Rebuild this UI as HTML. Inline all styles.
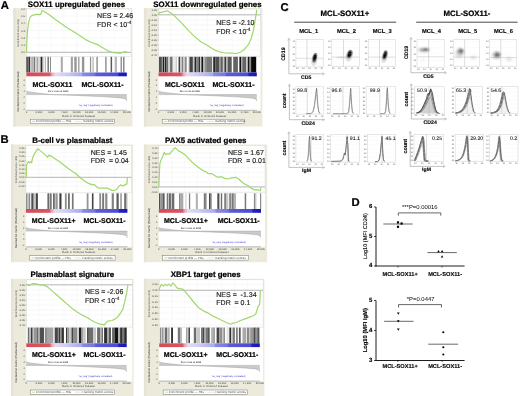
<!DOCTYPE html><html><head><meta charset="utf-8"><style>html,body{margin:0;padding:0;background:#fff;}svg{display:block;will-change:transform;font-family:"Liberation Sans",sans-serif;}</style></head><body><svg xmlns="http://www.w3.org/2000/svg" width="520" height="396" viewBox="0 0 520 396" font-family="Liberation Sans, sans-serif" text-rendering="geometricPrecision">
<rect x="0.00" y="0.00" width="520.00" height="396.00" fill="#ffffff" />
<rect x="13.30" y="8.00" width="119.20" height="118.50" fill="#ecebdb" />
<rect x="13.30" y="8.00" width="2.50" height="118.50" fill="#e6e4d6" />
<rect x="26.40" y="9.00" width="104.60" height="101.30" fill="#ffffff" />
<rect x="26.40" y="9.00" width="104.60" height="47.30" fill="none" stroke="#d8d8d8" stroke-width="0.5"/>
<line x1="26.40" y1="8.80" x2="131.00" y2="8.80" stroke="#f0f0f0" stroke-width="0.5" />
<text x="25.00" y="9.75" font-size="2.7" fill="#3a3a3a" text-anchor="end" >0.6</text>
<line x1="25.60" y1="8.80" x2="26.40" y2="8.80" stroke="#777" stroke-width="0.4" />
<line x1="26.40" y1="16.05" x2="131.00" y2="16.05" stroke="#f0f0f0" stroke-width="0.5" />
<text x="25.00" y="17.00" font-size="2.7" fill="#3a3a3a" text-anchor="end" >0.5</text>
<line x1="25.60" y1="16.05" x2="26.40" y2="16.05" stroke="#777" stroke-width="0.4" />
<line x1="26.40" y1="23.30" x2="131.00" y2="23.30" stroke="#f0f0f0" stroke-width="0.5" />
<text x="25.00" y="24.25" font-size="2.7" fill="#3a3a3a" text-anchor="end" >0.4</text>
<line x1="25.60" y1="23.30" x2="26.40" y2="23.30" stroke="#777" stroke-width="0.4" />
<line x1="26.40" y1="30.55" x2="131.00" y2="30.55" stroke="#f0f0f0" stroke-width="0.5" />
<text x="25.00" y="31.50" font-size="2.7" fill="#3a3a3a" text-anchor="end" >0.3</text>
<line x1="25.60" y1="30.55" x2="26.40" y2="30.55" stroke="#777" stroke-width="0.4" />
<line x1="26.40" y1="37.80" x2="131.00" y2="37.80" stroke="#f0f0f0" stroke-width="0.5" />
<text x="25.00" y="38.75" font-size="2.7" fill="#3a3a3a" text-anchor="end" >0.2</text>
<line x1="25.60" y1="37.80" x2="26.40" y2="37.80" stroke="#777" stroke-width="0.4" />
<line x1="26.40" y1="45.05" x2="131.00" y2="45.05" stroke="#f0f0f0" stroke-width="0.5" />
<text x="25.00" y="46.00" font-size="2.7" fill="#3a3a3a" text-anchor="end" >0.1</text>
<line x1="25.60" y1="45.05" x2="26.40" y2="45.05" stroke="#777" stroke-width="0.4" />
<line x1="26.40" y1="52.30" x2="131.00" y2="52.30" stroke="#f0f0f0" stroke-width="0.5" />
<text x="25.00" y="53.25" font-size="2.7" fill="#3a3a3a" text-anchor="end" >0.0</text>
<line x1="25.60" y1="52.30" x2="26.40" y2="52.30" stroke="#777" stroke-width="0.4" />
<line x1="38.95" y1="9.00" x2="38.95" y2="56.30" stroke="#f2f2f2" stroke-width="0.5" />
<line x1="51.50" y1="9.00" x2="51.50" y2="56.30" stroke="#f2f2f2" stroke-width="0.5" />
<line x1="64.05" y1="9.00" x2="64.05" y2="56.30" stroke="#f2f2f2" stroke-width="0.5" />
<line x1="76.60" y1="9.00" x2="76.60" y2="56.30" stroke="#f2f2f2" stroke-width="0.5" />
<line x1="89.15" y1="9.00" x2="89.15" y2="56.30" stroke="#f2f2f2" stroke-width="0.5" />
<line x1="101.70" y1="9.00" x2="101.70" y2="56.30" stroke="#f2f2f2" stroke-width="0.5" />
<line x1="114.25" y1="9.00" x2="114.25" y2="56.30" stroke="#f2f2f2" stroke-width="0.5" />
<line x1="26.40" y1="52.30" x2="131.00" y2="52.30" stroke="#8a8a8a" stroke-width="0.6" />
<text x="0" y="0" font-size="2.7" fill="#444" text-anchor="middle" transform="translate(19.20,32.90) rotate(-90)">Enrichment score (ES)</text>
<polyline points="26.50,52.30 26.80,43.20 27.40,32.30 28.60,22.60 30.10,17.10 32.30,15.30 35.90,14.30 40.20,14.70 41.40,12.90 42.00,10.70 43.20,11.00 49.30,14.70 55.30,19.50 61.40,23.80 67.50,28.00 75.00,32.60 80.30,35.90 85.60,39.60 90.90,42.20 96.20,44.10 98.30,44.90 101.40,47.00 105.70,49.60 109.90,51.70 113.10,52.60 117.30,52.80 120.50,53.30 124.70,51.70 127.40,52.30" fill="none" stroke="#9fd86c" stroke-width="1.2" stroke-linejoin="round"/>
<text x="97.10" y="18.10" font-size="7.0" fill="#1a1a1a" stroke="#1a1a1a" stroke-width="0.15" text-anchor="start" >NES = 2.46</text>
<text x="97.10" y="26.70" font-size="7.0" fill="#1a1a1a" stroke="#1a1a1a" stroke-width="0.15">FDR &lt; 10<tspan font-size="4.6" dy="-2.6">-4</tspan></text>
<rect x="26.40" y="56.80" width="1.40" height="15.70" fill="rgb(40,40,40)" />
<rect x="27.80" y="56.80" width="0.70" height="15.70" fill="rgb(120,120,120)" />
<rect x="28.50" y="56.80" width="1.70" height="15.70" fill="rgb(50,50,50)" />
<rect x="30.20" y="56.80" width="1.40" height="15.70" fill="rgb(200,200,200)" />
<rect x="31.60" y="56.80" width="1.10" height="15.70" fill="rgb(140,140,140)" />
<rect x="32.70" y="56.80" width="1.00" height="15.70" fill="rgb(200,200,200)" />
<rect x="33.70" y="56.80" width="1.40" height="15.70" fill="rgb(120,120,120)" />
<rect x="35.10" y="56.80" width="1.70" height="15.70" fill="rgb(210,210,210)" />
<rect x="36.80" y="56.80" width="1.10" height="15.70" fill="rgb(150,150,150)" />
<rect x="37.90" y="56.80" width="2.70" height="15.70" fill="rgb(215,215,215)" />
<rect x="40.60" y="56.80" width="1.40" height="15.70" fill="rgb(40,40,40)" />
<rect x="42.00" y="56.80" width="1.40" height="15.70" fill="rgb(160,160,160)" />
<rect x="44.80" y="56.80" width="1.00" height="15.70" fill="rgb(170,170,170)" />
<rect x="47.50" y="56.80" width="1.40" height="15.70" fill="rgb(110,110,110)" />
<rect x="50.00" y="56.80" width="1.00" height="15.70" fill="rgb(140,140,140)" />
<rect x="60.80" y="56.80" width="2.00" height="15.70" fill="rgb(170,170,170)" />
<rect x="70.80" y="56.80" width="2.10" height="15.70" fill="rgb(160,160,160)" />
<rect x="74.30" y="56.80" width="2.40" height="15.70" fill="rgb(150,150,150)" />
<rect x="78.10" y="56.80" width="1.40" height="15.70" fill="rgb(160,160,160)" />
<rect x="81.90" y="56.80" width="2.40" height="15.70" fill="rgb(150,150,150)" />
<rect x="89.90" y="56.80" width="1.30" height="15.70" fill="rgb(150,150,150)" />
<rect x="92.60" y="56.80" width="0.90" height="15.70" fill="rgb(150,150,150)" />
<rect x="96.40" y="56.80" width="1.40" height="15.70" fill="rgb(140,140,140)" />
<rect x="105.20" y="56.80" width="1.40" height="15.70" fill="rgb(140,140,140)" />
<rect x="110.60" y="56.80" width="1.50" height="15.70" fill="rgb(90,90,90)" />
<rect x="114.70" y="56.80" width="2.20" height="15.70" fill="rgb(180,180,180)" />
<rect x="120.50" y="56.80" width="1.50" height="15.70" fill="rgb(150,150,150)" />
<rect x="123.10" y="56.80" width="1.40" height="15.70" fill="rgb(130,130,130)" />
<rect x="26.40" y="72.50" width="100.40" height="3.80" fill="url(#cba1)"/>
<defs><linearGradient id="cba1" x1="0" x2="1" y1="0" y2="0"><stop offset="0.000" stop-color="#d64a56"/><stop offset="0.230" stop-color="#d85662"/><stop offset="0.255" stop-color="#e8a8b4"/><stop offset="0.290" stop-color="#e4dcf2"/><stop offset="0.400" stop-color="#ccccf4"/><stop offset="0.550" stop-color="#a8a8ec"/><stop offset="0.560" stop-color="#8a8ae4"/><stop offset="0.680" stop-color="#7676e0"/><stop offset="0.690" stop-color="#5c5cd8"/><stop offset="0.910" stop-color="#4c4cd2"/><stop offset="0.920" stop-color="#2222c4"/><stop offset="1.000" stop-color="#1414bc"/></linearGradient></defs>
<path d="M26.40,90.40 L27.00,91.40 L30.42,92.20 L38.45,93.20 L46.48,94.00 L52.50,94.60 L71.58,95.30 L86.64,95.90 L101.70,96.60 L114.75,97.40 L122.78,98.20 L126.00,99.20 L126.80,101.10 L126.80,94.60 L26.40,94.60 Z" fill="#cacaca"/>
<path d="M26.40,90.40 L27.00,91.40 L30.42,92.20 L38.45,93.20 L46.48,94.00 L52.50,94.60 L71.58,95.30 L86.64,95.90 L101.70,96.60 L114.75,97.40 L122.78,98.20 L126.00,99.20 L126.80,101.10" fill="none" stroke="#a0a0a0" stroke-width="0.5"/>
<line x1="26.40" y1="94.60" x2="126.80" y2="94.60" stroke="#9a9a9a" stroke-width="0.4" />
<text x="47.99" y="92.40" font-size="2.45" fill="#222" text-anchor="start" >Zero cross at 6985</text>
<text x="78.61" y="106.20" font-size="2.45" fill="#3a3ad0" text-anchor="start" >'na_neg' (negatively correlated)</text>
<text x="24.90" y="80.60" font-size="2.4" fill="#555" text-anchor="end" >8</text>
<text x="24.90" y="86.40" font-size="2.4" fill="#555" text-anchor="end" >6</text>
<text x="24.90" y="92.20" font-size="2.4" fill="#555" text-anchor="end" >4</text>
<text x="24.90" y="98.00" font-size="2.4" fill="#555" text-anchor="end" >2</text>
<text x="24.90" y="103.80" font-size="2.4" fill="#555" text-anchor="end" >0</text>
<text x="24.90" y="109.60" font-size="2.4" fill="#555" text-anchor="end" >-2</text>
<text x="0" y="0" font-size="2.9" fill="#333" text-anchor="middle" transform="translate(19.30,91.50) rotate(-90)">Ranked list metric (PreRanked)</text>
<line x1="26.40" y1="110.30" x2="126.80" y2="110.30" stroke="#777" stroke-width="0.5" />
<text x="26.40" y="113.10" font-size="2.7" fill="#333" text-anchor="middle" >0</text>
<text x="38.95" y="113.10" font-size="2.7" fill="#333" text-anchor="middle" >2,500</text>
<text x="51.50" y="113.10" font-size="2.7" fill="#333" text-anchor="middle" >5,000</text>
<text x="64.05" y="113.10" font-size="2.7" fill="#333" text-anchor="middle" >7,500</text>
<text x="76.60" y="113.10" font-size="2.7" fill="#333" text-anchor="middle" >10,000</text>
<text x="89.15" y="113.10" font-size="2.7" fill="#333" text-anchor="middle" >12,500</text>
<text x="101.70" y="113.10" font-size="2.7" fill="#333" text-anchor="middle" >15,000</text>
<text x="114.25" y="113.10" font-size="2.7" fill="#333" text-anchor="middle" >17,500</text>
<text x="126.80" y="113.10" font-size="2.7" fill="#333" text-anchor="middle" >20,000</text>
<text x="78.60" y="116.60" font-size="3.0" fill="#555" text-anchor="middle" >Rank in Ordered Dataset</text>
<rect x="30.30" y="119.20" width="84.20" height="4.4" fill="#fff" stroke="#666" stroke-width="0.45"/>
<line x1="32.00" y1="121.40" x2="35.10" y2="121.40" stroke="#9fd86c" stroke-width="0.7" />
<text x="36.00" y="122.40" font-size="3.1" fill="#555" text-anchor="start" >Enrichment profile</text>
<text x="61.90" y="122.40" font-size="3.1" fill="#555" text-anchor="start" >— Hits</text>
<line x1="74.90" y1="121.40" x2="81.80" y2="121.40" stroke="#ccc" stroke-width="0.6" />
<text x="82.70" y="122.40" font-size="3.1" fill="#555" text-anchor="start" >Ranking metric scores</text>
<text x="32.60" y="86.50" font-size="7.0" font-weight="bold" fill="#000" stroke="#000" stroke-width="0.22" text-anchor="start" >MCL-SOX11</text>
<text x="81.50" y="86.50" font-size="7.0" font-weight="bold" fill="#000" stroke="#000" stroke-width="0.22" text-anchor="start" >MCL-SOX11-</text>
<text x="27.70" y="6.80" font-size="7.9" font-weight="bold" fill="#000" stroke="#000" stroke-width="0.22" text-anchor="start" >SOX11 upregulated genes</text>
<rect x="143.90" y="8.00" width="118.50" height="118.50" fill="#ecebdb" />
<rect x="143.90" y="8.00" width="2.50" height="118.50" fill="#e6e4d6" />
<rect x="158.50" y="9.00" width="102.00" height="101.30" fill="#ffffff" />
<rect x="158.50" y="9.00" width="102.00" height="47.30" fill="none" stroke="#d8d8d8" stroke-width="0.5"/>
<line x1="158.50" y1="9.80" x2="260.50" y2="9.80" stroke="#f0f0f0" stroke-width="0.5" />
<text x="157.10" y="10.75" font-size="2.7" fill="#3a3a3a" text-anchor="end" >0.05</text>
<line x1="157.70" y1="9.80" x2="158.50" y2="9.80" stroke="#777" stroke-width="0.4" />
<line x1="158.50" y1="14.82" x2="260.50" y2="14.82" stroke="#f0f0f0" stroke-width="0.5" />
<text x="157.10" y="15.77" font-size="2.7" fill="#3a3a3a" text-anchor="end" >0.00</text>
<line x1="157.70" y1="14.82" x2="158.50" y2="14.82" stroke="#777" stroke-width="0.4" />
<line x1="158.50" y1="19.84" x2="260.50" y2="19.84" stroke="#f0f0f0" stroke-width="0.5" />
<text x="157.10" y="20.79" font-size="2.7" fill="#3a3a3a" text-anchor="end" >-0.05</text>
<line x1="157.70" y1="19.84" x2="158.50" y2="19.84" stroke="#777" stroke-width="0.4" />
<line x1="158.50" y1="24.86" x2="260.50" y2="24.86" stroke="#f0f0f0" stroke-width="0.5" />
<text x="157.10" y="25.81" font-size="2.7" fill="#3a3a3a" text-anchor="end" >-0.10</text>
<line x1="157.70" y1="24.86" x2="158.50" y2="24.86" stroke="#777" stroke-width="0.4" />
<line x1="158.50" y1="29.88" x2="260.50" y2="29.88" stroke="#f0f0f0" stroke-width="0.5" />
<text x="157.10" y="30.83" font-size="2.7" fill="#3a3a3a" text-anchor="end" >-0.15</text>
<line x1="157.70" y1="29.88" x2="158.50" y2="29.88" stroke="#777" stroke-width="0.4" />
<line x1="158.50" y1="34.90" x2="260.50" y2="34.90" stroke="#f0f0f0" stroke-width="0.5" />
<text x="157.10" y="35.85" font-size="2.7" fill="#3a3a3a" text-anchor="end" >-0.20</text>
<line x1="157.70" y1="34.90" x2="158.50" y2="34.90" stroke="#777" stroke-width="0.4" />
<line x1="158.50" y1="39.92" x2="260.50" y2="39.92" stroke="#f0f0f0" stroke-width="0.5" />
<text x="157.10" y="40.87" font-size="2.7" fill="#3a3a3a" text-anchor="end" >-0.25</text>
<line x1="157.70" y1="39.92" x2="158.50" y2="39.92" stroke="#777" stroke-width="0.4" />
<line x1="158.50" y1="44.94" x2="260.50" y2="44.94" stroke="#f0f0f0" stroke-width="0.5" />
<text x="157.10" y="45.89" font-size="2.7" fill="#3a3a3a" text-anchor="end" >-0.30</text>
<line x1="157.70" y1="44.94" x2="158.50" y2="44.94" stroke="#777" stroke-width="0.4" />
<line x1="158.50" y1="49.96" x2="260.50" y2="49.96" stroke="#f0f0f0" stroke-width="0.5" />
<text x="157.10" y="50.91" font-size="2.7" fill="#3a3a3a" text-anchor="end" >-0.35</text>
<line x1="157.70" y1="49.96" x2="158.50" y2="49.96" stroke="#777" stroke-width="0.4" />
<line x1="158.50" y1="54.98" x2="260.50" y2="54.98" stroke="#f0f0f0" stroke-width="0.5" />
<text x="157.10" y="55.93" font-size="2.7" fill="#3a3a3a" text-anchor="end" >-0.40</text>
<line x1="157.70" y1="54.98" x2="158.50" y2="54.98" stroke="#777" stroke-width="0.4" />
<line x1="170.79" y1="9.00" x2="170.79" y2="56.30" stroke="#f2f2f2" stroke-width="0.5" />
<line x1="183.07" y1="9.00" x2="183.07" y2="56.30" stroke="#f2f2f2" stroke-width="0.5" />
<line x1="195.36" y1="9.00" x2="195.36" y2="56.30" stroke="#f2f2f2" stroke-width="0.5" />
<line x1="207.65" y1="9.00" x2="207.65" y2="56.30" stroke="#f2f2f2" stroke-width="0.5" />
<line x1="219.94" y1="9.00" x2="219.94" y2="56.30" stroke="#f2f2f2" stroke-width="0.5" />
<line x1="232.23" y1="9.00" x2="232.23" y2="56.30" stroke="#f2f2f2" stroke-width="0.5" />
<line x1="244.51" y1="9.00" x2="244.51" y2="56.30" stroke="#f2f2f2" stroke-width="0.5" />
<line x1="158.50" y1="14.80" x2="260.50" y2="14.80" stroke="#8a8a8a" stroke-width="0.6" />
<text x="0" y="0" font-size="2.7" fill="#444" text-anchor="middle" transform="translate(149.80,32.90) rotate(-90)">Enrichment score (ES)</text>
<polyline points="158.50,14.80 159.50,12.30 162.00,12.10 164.60,11.70 167.10,10.80 169.60,12.30 173.40,14.80 177.20,18.60 182.20,23.70 188.50,30.60 194.90,36.90 201.20,42.00 205.00,44.00 210.20,47.20 215.50,50.40 220.70,52.20 226.00,53.00 231.20,53.20 236.50,53.50 240.40,52.20 244.40,49.30 248.30,44.70 250.90,39.50 253.60,29.60 254.90,21.70 256.20,13.90 256.80,9.90" fill="none" stroke="#9fd86c" stroke-width="1.2" stroke-linejoin="round"/>
<text x="216.20" y="25.00" font-size="7.0" fill="#1a1a1a" stroke="#1a1a1a" stroke-width="0.15" text-anchor="start" >NES = -2.10</text>
<text x="216.20" y="33.60" font-size="7.0" fill="#1a1a1a" stroke="#1a1a1a" stroke-width="0.15">FDR &lt; 10<tspan font-size="4.6" dy="-2.6">-4</tspan></text>
<rect x="158.90" y="56.80" width="3.00" height="15.70" fill="rgb(80,80,80)" />
<rect x="161.90" y="56.80" width="1.00" height="15.70" fill="rgb(150,150,150)" />
<rect x="162.90" y="56.80" width="1.30" height="15.70" fill="rgb(30,30,30)" />
<rect x="164.20" y="56.80" width="0.60" height="15.70" fill="rgb(170,170,170)" />
<rect x="164.80" y="56.80" width="1.30" height="15.70" fill="rgb(40,40,40)" />
<rect x="166.10" y="56.80" width="2.30" height="15.70" fill="rgb(110,110,110)" />
<rect x="168.40" y="56.80" width="1.70" height="15.70" fill="rgb(210,210,210)" />
<rect x="170.10" y="56.80" width="2.30" height="15.70" fill="rgb(110,110,110)" />
<rect x="172.40" y="56.80" width="0.90" height="15.70" fill="rgb(170,170,170)" />
<rect x="173.30" y="56.80" width="2.30" height="15.70" fill="rgb(235,235,235)" />
<rect x="175.60" y="56.80" width="1.30" height="15.70" fill="rgb(200,200,200)" />
<rect x="178.60" y="56.80" width="1.30" height="15.70" fill="rgb(30,30,30)" />
<rect x="179.90" y="56.80" width="1.90" height="15.70" fill="rgb(200,200,200)" />
<rect x="181.80" y="56.80" width="1.70" height="15.70" fill="rgb(130,130,130)" />
<rect x="183.50" y="56.80" width="1.30" height="15.70" fill="rgb(210,210,210)" />
<rect x="184.80" y="56.80" width="1.90" height="15.70" fill="rgb(140,140,140)" />
<rect x="188.70" y="56.80" width="0.90" height="15.70" fill="rgb(160,160,160)" />
<rect x="189.60" y="56.80" width="3.30" height="15.70" fill="rgb(70,70,70)" />
<rect x="192.90" y="56.80" width="1.60" height="15.70" fill="rgb(200,200,200)" />
<rect x="194.50" y="56.80" width="2.00" height="15.70" fill="rgb(40,40,40)" />
<rect x="196.50" y="56.80" width="2.00" height="15.70" fill="rgb(130,130,130)" />
<rect x="198.50" y="56.80" width="1.60" height="15.70" fill="rgb(50,50,50)" />
<rect x="200.10" y="56.80" width="1.30" height="15.70" fill="rgb(200,200,200)" />
<rect x="201.40" y="56.80" width="1.60" height="15.70" fill="rgb(20,20,20)" />
<rect x="203.00" y="56.80" width="1.70" height="15.70" fill="rgb(180,180,180)" />
<rect x="204.70" y="56.80" width="2.30" height="15.70" fill="rgb(140,140,140)" />
<rect x="207.00" y="56.80" width="5.20" height="15.70" fill="rgb(120,120,120)" />
<rect x="213.20" y="56.80" width="2.30" height="15.70" fill="rgb(40,40,40)" />
<rect x="215.50" y="56.80" width="3.60" height="15.70" fill="rgb(80,80,80)" />
<rect x="219.10" y="56.80" width="1.30" height="15.70" fill="rgb(150,150,150)" />
<rect x="220.40" y="56.80" width="2.50" height="15.70" fill="rgb(100,100,100)" />
<rect x="222.90" y="56.80" width="1.50" height="15.70" fill="rgb(200,200,200)" />
<rect x="224.40" y="56.80" width="1.80" height="15.70" fill="rgb(60,60,60)" />
<rect x="226.20" y="56.80" width="1.50" height="15.70" fill="rgb(170,170,170)" />
<rect x="227.70" y="56.80" width="4.00" height="15.70" fill="rgb(90,90,90)" />
<rect x="233.20" y="56.80" width="4.70" height="15.70" fill="rgb(100,100,100)" />
<rect x="239.40" y="56.80" width="1.80" height="15.70" fill="rgb(15,15,15)" />
<rect x="241.20" y="56.80" width="1.10" height="15.70" fill="rgb(160,160,160)" />
<rect x="242.30" y="56.80" width="4.00" height="15.70" fill="rgb(100,100,100)" />
<rect x="246.30" y="56.80" width="1.50" height="15.70" fill="rgb(200,200,200)" />
<rect x="247.80" y="56.80" width="1.80" height="15.70" fill="rgb(20,20,20)" />
<rect x="249.60" y="56.80" width="1.50" height="15.70" fill="rgb(140,140,140)" />
<rect x="251.10" y="56.80" width="5.10" height="15.70" fill="rgb(10,10,10)" />
<rect x="158.50" y="72.50" width="98.30" height="3.80" fill="url(#cba2)"/>
<defs><linearGradient id="cba2" x1="0" x2="1" y1="0" y2="0"><stop offset="0.000" stop-color="#d64a56"/><stop offset="0.230" stop-color="#d85662"/><stop offset="0.255" stop-color="#e8a8b4"/><stop offset="0.290" stop-color="#e4dcf2"/><stop offset="0.400" stop-color="#ccccf4"/><stop offset="0.550" stop-color="#a8a8ec"/><stop offset="0.560" stop-color="#8a8ae4"/><stop offset="0.680" stop-color="#7676e0"/><stop offset="0.690" stop-color="#5c5cd8"/><stop offset="0.910" stop-color="#4c4cd2"/><stop offset="0.920" stop-color="#2222c4"/><stop offset="1.000" stop-color="#1414bc"/></linearGradient></defs>
<path d="M158.50,90.40 L159.10,91.40 L162.43,92.20 L170.30,93.20 L178.16,94.00 L184.06,94.60 L202.74,95.30 L217.48,95.90 L232.23,96.60 L245.00,97.40 L252.87,98.20 L256.00,99.20 L256.80,101.10 L256.80,94.60 L158.50,94.60 Z" fill="#cacaca"/>
<path d="M158.50,90.40 L159.10,91.40 L162.43,92.20 L170.30,93.20 L178.16,94.00 L184.06,94.60 L202.74,95.30 L217.48,95.90 L232.23,96.60 L245.00,97.40 L252.87,98.20 L256.00,99.20 L256.80,101.10" fill="none" stroke="#a0a0a0" stroke-width="0.5"/>
<line x1="158.50" y1="94.60" x2="256.80" y2="94.60" stroke="#9a9a9a" stroke-width="0.4" />
<text x="179.63" y="92.40" font-size="2.45" fill="#222" text-anchor="start" >Zero cross at 6985</text>
<text x="209.62" y="106.20" font-size="2.45" fill="#3a3ad0" text-anchor="start" >'na_neg' (negatively correlated)</text>
<text x="157.00" y="80.60" font-size="2.4" fill="#555" text-anchor="end" >8</text>
<text x="157.00" y="86.40" font-size="2.4" fill="#555" text-anchor="end" >6</text>
<text x="157.00" y="92.20" font-size="2.4" fill="#555" text-anchor="end" >4</text>
<text x="157.00" y="98.00" font-size="2.4" fill="#555" text-anchor="end" >2</text>
<text x="157.00" y="103.80" font-size="2.4" fill="#555" text-anchor="end" >0</text>
<text x="157.00" y="109.60" font-size="2.4" fill="#555" text-anchor="end" >-2</text>
<text x="0" y="0" font-size="2.9" fill="#333" text-anchor="middle" transform="translate(149.90,91.50) rotate(-90)">Ranked list metric (PreRanked)</text>
<line x1="158.50" y1="110.30" x2="256.80" y2="110.30" stroke="#777" stroke-width="0.5" />
<text x="158.50" y="113.10" font-size="2.7" fill="#333" text-anchor="middle" >0</text>
<text x="170.79" y="113.10" font-size="2.7" fill="#333" text-anchor="middle" >2,500</text>
<text x="183.07" y="113.10" font-size="2.7" fill="#333" text-anchor="middle" >5,000</text>
<text x="195.36" y="113.10" font-size="2.7" fill="#333" text-anchor="middle" >7,500</text>
<text x="207.65" y="113.10" font-size="2.7" fill="#333" text-anchor="middle" >10,000</text>
<text x="219.94" y="113.10" font-size="2.7" fill="#333" text-anchor="middle" >12,500</text>
<text x="232.23" y="113.10" font-size="2.7" fill="#333" text-anchor="middle" >15,000</text>
<text x="244.51" y="113.10" font-size="2.7" fill="#333" text-anchor="middle" >17,500</text>
<text x="256.80" y="113.10" font-size="2.7" fill="#333" text-anchor="middle" >20,000</text>
<text x="209.65" y="116.60" font-size="3.0" fill="#555" text-anchor="middle" >Rank in Ordered Dataset</text>
<rect x="162.40" y="119.20" width="82.10" height="4.4" fill="#fff" stroke="#666" stroke-width="0.45"/>
<line x1="164.10" y1="121.40" x2="167.20" y2="121.40" stroke="#9fd86c" stroke-width="0.7" />
<text x="168.10" y="122.40" font-size="3.1" fill="#555" text-anchor="start" >Enrichment profile</text>
<text x="194.00" y="122.40" font-size="3.1" fill="#555" text-anchor="start" >— Hits</text>
<line x1="207.00" y1="121.40" x2="213.90" y2="121.40" stroke="#ccc" stroke-width="0.6" />
<text x="214.80" y="122.40" font-size="3.1" fill="#555" text-anchor="start" >Ranking metric scores</text>
<text x="165.00" y="86.50" font-size="7.0" font-weight="bold" fill="#000" stroke="#000" stroke-width="0.22" text-anchor="start" >MCL-SOX11</text>
<text x="212.50" y="86.50" font-size="7.0" font-weight="bold" fill="#000" stroke="#000" stroke-width="0.22" text-anchor="start" >MCL-SOX11-</text>
<text x="153.30" y="6.80" font-size="7.9" font-weight="bold" fill="#000" stroke="#000" stroke-width="0.22" text-anchor="start" >SOX11 downregulated genes</text>
<rect x="11.00" y="144.50" width="122.20" height="117.70" fill="#ecebdb" />
<rect x="11.00" y="144.50" width="2.50" height="117.70" fill="#e6e4d6" />
<rect x="25.90" y="145.50" width="105.60" height="101.30" fill="#ffffff" />
<rect x="25.90" y="145.50" width="105.60" height="47.30" fill="none" stroke="#d8d8d8" stroke-width="0.5"/>
<line x1="25.90" y1="148.10" x2="131.50" y2="148.10" stroke="#f0f0f0" stroke-width="0.5" />
<text x="24.50" y="149.05" font-size="2.7" fill="#3a3a3a" text-anchor="end" >0.35</text>
<line x1="25.10" y1="148.10" x2="25.90" y2="148.10" stroke="#777" stroke-width="0.4" />
<line x1="25.90" y1="152.30" x2="131.50" y2="152.30" stroke="#f0f0f0" stroke-width="0.5" />
<text x="24.50" y="153.25" font-size="2.7" fill="#3a3a3a" text-anchor="end" >0.30</text>
<line x1="25.10" y1="152.30" x2="25.90" y2="152.30" stroke="#777" stroke-width="0.4" />
<line x1="25.90" y1="156.50" x2="131.50" y2="156.50" stroke="#f0f0f0" stroke-width="0.5" />
<text x="24.50" y="157.45" font-size="2.7" fill="#3a3a3a" text-anchor="end" >0.25</text>
<line x1="25.10" y1="156.50" x2="25.90" y2="156.50" stroke="#777" stroke-width="0.4" />
<line x1="25.90" y1="160.70" x2="131.50" y2="160.70" stroke="#f0f0f0" stroke-width="0.5" />
<text x="24.50" y="161.65" font-size="2.7" fill="#3a3a3a" text-anchor="end" >0.20</text>
<line x1="25.10" y1="160.70" x2="25.90" y2="160.70" stroke="#777" stroke-width="0.4" />
<line x1="25.90" y1="164.90" x2="131.50" y2="164.90" stroke="#f0f0f0" stroke-width="0.5" />
<text x="24.50" y="165.85" font-size="2.7" fill="#3a3a3a" text-anchor="end" >0.15</text>
<line x1="25.10" y1="164.90" x2="25.90" y2="164.90" stroke="#777" stroke-width="0.4" />
<line x1="25.90" y1="169.10" x2="131.50" y2="169.10" stroke="#f0f0f0" stroke-width="0.5" />
<text x="24.50" y="170.05" font-size="2.7" fill="#3a3a3a" text-anchor="end" >0.10</text>
<line x1="25.10" y1="169.10" x2="25.90" y2="169.10" stroke="#777" stroke-width="0.4" />
<line x1="25.90" y1="173.30" x2="131.50" y2="173.30" stroke="#f0f0f0" stroke-width="0.5" />
<text x="24.50" y="174.25" font-size="2.7" fill="#3a3a3a" text-anchor="end" >0.05</text>
<line x1="25.10" y1="173.30" x2="25.90" y2="173.30" stroke="#777" stroke-width="0.4" />
<line x1="25.90" y1="177.50" x2="131.50" y2="177.50" stroke="#f0f0f0" stroke-width="0.5" />
<text x="24.50" y="178.45" font-size="2.7" fill="#3a3a3a" text-anchor="end" >0.00</text>
<line x1="25.10" y1="177.50" x2="25.90" y2="177.50" stroke="#777" stroke-width="0.4" />
<line x1="25.90" y1="181.70" x2="131.50" y2="181.70" stroke="#f0f0f0" stroke-width="0.5" />
<text x="24.50" y="182.65" font-size="2.7" fill="#3a3a3a" text-anchor="end" >-0.05</text>
<line x1="25.10" y1="181.70" x2="25.90" y2="181.70" stroke="#777" stroke-width="0.4" />
<line x1="25.90" y1="185.90" x2="131.50" y2="185.90" stroke="#f0f0f0" stroke-width="0.5" />
<text x="24.50" y="186.85" font-size="2.7" fill="#3a3a3a" text-anchor="end" >-0.10</text>
<line x1="25.10" y1="185.90" x2="25.90" y2="185.90" stroke="#777" stroke-width="0.4" />
<line x1="38.59" y1="145.50" x2="38.59" y2="192.80" stroke="#f2f2f2" stroke-width="0.5" />
<line x1="51.27" y1="145.50" x2="51.27" y2="192.80" stroke="#f2f2f2" stroke-width="0.5" />
<line x1="63.96" y1="145.50" x2="63.96" y2="192.80" stroke="#f2f2f2" stroke-width="0.5" />
<line x1="76.65" y1="145.50" x2="76.65" y2="192.80" stroke="#f2f2f2" stroke-width="0.5" />
<line x1="89.34" y1="145.50" x2="89.34" y2="192.80" stroke="#f2f2f2" stroke-width="0.5" />
<line x1="102.03" y1="145.50" x2="102.03" y2="192.80" stroke="#f2f2f2" stroke-width="0.5" />
<line x1="114.71" y1="145.50" x2="114.71" y2="192.80" stroke="#f2f2f2" stroke-width="0.5" />
<line x1="25.90" y1="177.30" x2="131.50" y2="177.30" stroke="#8a8a8a" stroke-width="0.6" />
<text x="0" y="0" font-size="2.7" fill="#444" text-anchor="middle" transform="translate(16.90,169.40) rotate(-90)">Enrichment score (ES)</text>
<polyline points="26.30,177.20 26.50,165.50 27.50,162.90 28.50,161.70 29.40,162.90 30.70,161.70 31.60,162.90 32.60,157.90 34.50,153.50 35.70,152.20 36.60,150.30 37.60,148.80 39.50,150.10 42.70,152.60 45.80,155.40 47.70,157.20 49.00,155.10 52.80,157.20 57.80,160.40 62.90,164.20 69.20,169.20 76.00,173.80 80.20,177.70 84.30,180.80 88.50,183.40 92.60,184.90 94.20,184.40 96.80,187.00 98.80,188.20 103.00,188.20 107.20,188.00 110.30,189.60 112.30,190.60 115.50,190.10 117.00,189.10 118.60,186.50 120.70,184.90 122.70,186.00 124.80,184.90 126.90,183.90 127.40,177.10" fill="none" stroke="#9fd86c" stroke-width="1.2" stroke-linejoin="round"/>
<text x="90.80" y="154.70" font-size="7.0" fill="#1a1a1a" stroke="#1a1a1a" stroke-width="0.15" text-anchor="start" >NES = 1.45</text>
<text x="90.80" y="163.30" font-size="7.0" fill="#1a1a1a" stroke="#1a1a1a" stroke-width="0.15">FDR &#160;= 0.04</text>
<rect x="26.10" y="193.30" width="1.40" height="15.70" fill="rgb(130,130,130)" />
<rect x="27.50" y="193.30" width="1.30" height="15.70" fill="rgb(190,190,190)" />
<rect x="28.80" y="193.30" width="1.40" height="15.70" fill="rgb(140,140,140)" />
<rect x="31.30" y="193.30" width="1.70" height="15.70" fill="rgb(80,80,80)" />
<rect x="33.00" y="193.30" width="1.00" height="15.70" fill="rgb(150,150,150)" />
<rect x="34.00" y="193.30" width="1.80" height="15.70" fill="rgb(200,200,200)" />
<rect x="35.80" y="193.30" width="2.10" height="15.70" fill="rgb(70,70,70)" />
<rect x="47.50" y="193.30" width="1.40" height="15.70" fill="rgb(80,80,80)" />
<rect x="48.90" y="193.30" width="1.10" height="15.70" fill="rgb(190,190,190)" />
<rect x="50.00" y="193.30" width="1.70" height="15.70" fill="rgb(120,120,120)" />
<rect x="53.10" y="193.30" width="1.70" height="15.70" fill="rgb(90,90,90)" />
<rect x="54.80" y="193.30" width="1.40" height="15.70" fill="rgb(190,190,190)" />
<rect x="56.20" y="193.30" width="1.40" height="15.70" fill="rgb(130,130,130)" />
<rect x="59.40" y="193.30" width="2.10" height="15.70" fill="rgb(60,60,60)" />
<rect x="64.90" y="193.30" width="1.80" height="15.70" fill="rgb(140,140,140)" />
<rect x="68.00" y="193.30" width="1.80" height="15.70" fill="rgb(110,110,110)" />
<rect x="71.90" y="193.30" width="1.70" height="15.70" fill="rgb(120,120,120)" />
<rect x="86.70" y="193.30" width="1.80" height="15.70" fill="rgb(150,150,150)" />
<rect x="91.90" y="193.30" width="1.60" height="15.70" fill="rgb(70,70,70)" />
<rect x="99.30" y="193.30" width="1.80" height="15.70" fill="rgb(140,140,140)" />
<rect x="102.20" y="193.30" width="1.90" height="15.70" fill="rgb(120,120,120)" />
<rect x="105.20" y="193.30" width="2.20" height="15.70" fill="rgb(140,140,140)" />
<rect x="111.70" y="193.30" width="2.20" height="15.70" fill="rgb(130,130,130)" />
<rect x="116.50" y="193.30" width="2.20" height="15.70" fill="rgb(90,90,90)" />
<rect x="120.10" y="193.30" width="1.90" height="15.70" fill="rgb(170,170,170)" />
<rect x="124.20" y="193.30" width="2.20" height="15.70" fill="rgb(110,110,110)" />
<rect x="126.40" y="193.30" width="1.00" height="15.70" fill="rgb(180,180,180)" />
<rect x="25.90" y="209.00" width="101.50" height="3.80" fill="url(#cbb1)"/>
<defs><linearGradient id="cbb1" x1="0" x2="1" y1="0" y2="0"><stop offset="0.000" stop-color="#d64a56"/><stop offset="0.230" stop-color="#d85662"/><stop offset="0.255" stop-color="#e8a8b4"/><stop offset="0.290" stop-color="#e4dcf2"/><stop offset="0.400" stop-color="#ccccf4"/><stop offset="0.550" stop-color="#a8a8ec"/><stop offset="0.560" stop-color="#8a8ae4"/><stop offset="0.680" stop-color="#7676e0"/><stop offset="0.690" stop-color="#5c5cd8"/><stop offset="0.910" stop-color="#4c4cd2"/><stop offset="0.920" stop-color="#2222c4"/><stop offset="1.000" stop-color="#1414bc"/></linearGradient></defs>
<path d="M25.90,226.90 L26.50,227.90 L29.96,228.70 L38.08,229.70 L46.20,230.50 L52.29,231.10 L71.58,231.80 L86.80,232.40 L102.03,233.10 L115.22,233.90 L123.34,234.70 L126.60,235.70 L127.40,237.60 L127.40,231.10 L25.90,231.10 Z" fill="#cacaca"/>
<path d="M25.90,226.90 L26.50,227.90 L29.96,228.70 L38.08,229.70 L46.20,230.50 L52.29,231.10 L71.58,231.80 L86.80,232.40 L102.03,233.10 L115.22,233.90 L123.34,234.70 L126.60,235.70 L127.40,237.60" fill="none" stroke="#a0a0a0" stroke-width="0.5"/>
<line x1="25.90" y1="231.10" x2="127.40" y2="231.10" stroke="#9a9a9a" stroke-width="0.4" />
<text x="47.72" y="228.90" font-size="2.45" fill="#222" text-anchor="start" >Zero cross at 6985</text>
<text x="78.68" y="242.70" font-size="2.45" fill="#3a3ad0" text-anchor="start" >'na_neg' (negatively correlated)</text>
<text x="24.40" y="217.10" font-size="2.4" fill="#555" text-anchor="end" >8</text>
<text x="24.40" y="222.90" font-size="2.4" fill="#555" text-anchor="end" >6</text>
<text x="24.40" y="228.70" font-size="2.4" fill="#555" text-anchor="end" >4</text>
<text x="24.40" y="234.50" font-size="2.4" fill="#555" text-anchor="end" >2</text>
<text x="24.40" y="240.30" font-size="2.4" fill="#555" text-anchor="end" >0</text>
<text x="24.40" y="246.10" font-size="2.4" fill="#555" text-anchor="end" >-2</text>
<text x="0" y="0" font-size="2.9" fill="#333" text-anchor="middle" transform="translate(17.00,228.00) rotate(-90)">Ranked list metric (PreRanked)</text>
<line x1="25.90" y1="246.80" x2="127.40" y2="246.80" stroke="#777" stroke-width="0.5" />
<text x="25.90" y="249.60" font-size="2.7" fill="#333" text-anchor="middle" >0</text>
<text x="38.59" y="249.60" font-size="2.7" fill="#333" text-anchor="middle" >2,500</text>
<text x="51.27" y="249.60" font-size="2.7" fill="#333" text-anchor="middle" >5,000</text>
<text x="63.96" y="249.60" font-size="2.7" fill="#333" text-anchor="middle" >7,500</text>
<text x="76.65" y="249.60" font-size="2.7" fill="#333" text-anchor="middle" >10,000</text>
<text x="89.34" y="249.60" font-size="2.7" fill="#333" text-anchor="middle" >12,500</text>
<text x="102.03" y="249.60" font-size="2.7" fill="#333" text-anchor="middle" >15,000</text>
<text x="114.71" y="249.60" font-size="2.7" fill="#333" text-anchor="middle" >17,500</text>
<text x="127.40" y="249.60" font-size="2.7" fill="#333" text-anchor="middle" >20,000</text>
<text x="78.65" y="253.10" font-size="3.0" fill="#555" text-anchor="middle" >Rank in Ordered Dataset</text>
<rect x="29.80" y="255.70" width="85.30" height="4.4" fill="#fff" stroke="#666" stroke-width="0.45"/>
<line x1="31.50" y1="257.90" x2="34.60" y2="257.90" stroke="#9fd86c" stroke-width="0.7" />
<text x="35.50" y="258.90" font-size="3.1" fill="#555" text-anchor="start" >Enrichment profile</text>
<text x="61.40" y="258.90" font-size="3.1" fill="#555" text-anchor="start" >— Hits</text>
<line x1="74.40" y1="257.90" x2="81.30" y2="257.90" stroke="#ccc" stroke-width="0.6" />
<text x="82.20" y="258.90" font-size="3.1" fill="#555" text-anchor="start" >Ranking metric scores</text>
<text x="31.80" y="223.00" font-size="7.0" font-weight="bold" fill="#000" stroke="#000" stroke-width="0.22" text-anchor="start" >MCL-SOX11+</text>
<text x="83.50" y="223.00" font-size="7.0" font-weight="bold" fill="#000" stroke="#000" stroke-width="0.22" text-anchor="start" >MCL-SOX11-</text>
<text x="32.20" y="143.20" font-size="7.9" font-weight="bold" fill="#000" stroke="#000" stroke-width="0.22" text-anchor="start" >B-cell vs plasmablast</text>
<rect x="143.90" y="144.50" width="123.30" height="117.70" fill="#ecebdb" />
<rect x="143.90" y="144.50" width="2.50" height="117.70" fill="#e6e4d6" />
<rect x="158.80" y="145.50" width="106.20" height="101.30" fill="#ffffff" />
<rect x="158.80" y="145.50" width="106.20" height="47.30" fill="none" stroke="#d8d8d8" stroke-width="0.5"/>
<line x1="158.80" y1="148.10" x2="265.00" y2="148.10" stroke="#f0f0f0" stroke-width="0.5" />
<text x="157.40" y="149.05" font-size="2.7" fill="#3a3a3a" text-anchor="end" >0.40</text>
<line x1="158.00" y1="148.10" x2="158.80" y2="148.10" stroke="#777" stroke-width="0.4" />
<line x1="158.80" y1="152.95" x2="265.00" y2="152.95" stroke="#f0f0f0" stroke-width="0.5" />
<text x="157.40" y="153.90" font-size="2.7" fill="#3a3a3a" text-anchor="end" >0.35</text>
<line x1="158.00" y1="152.95" x2="158.80" y2="152.95" stroke="#777" stroke-width="0.4" />
<line x1="158.80" y1="157.80" x2="265.00" y2="157.80" stroke="#f0f0f0" stroke-width="0.5" />
<text x="157.40" y="158.75" font-size="2.7" fill="#3a3a3a" text-anchor="end" >0.30</text>
<line x1="158.00" y1="157.80" x2="158.80" y2="157.80" stroke="#777" stroke-width="0.4" />
<line x1="158.80" y1="162.65" x2="265.00" y2="162.65" stroke="#f0f0f0" stroke-width="0.5" />
<text x="157.40" y="163.60" font-size="2.7" fill="#3a3a3a" text-anchor="end" >0.25</text>
<line x1="158.00" y1="162.65" x2="158.80" y2="162.65" stroke="#777" stroke-width="0.4" />
<line x1="158.80" y1="167.50" x2="265.00" y2="167.50" stroke="#f0f0f0" stroke-width="0.5" />
<text x="157.40" y="168.45" font-size="2.7" fill="#3a3a3a" text-anchor="end" >0.20</text>
<line x1="158.00" y1="167.50" x2="158.80" y2="167.50" stroke="#777" stroke-width="0.4" />
<line x1="158.80" y1="172.35" x2="265.00" y2="172.35" stroke="#f0f0f0" stroke-width="0.5" />
<text x="157.40" y="173.30" font-size="2.7" fill="#3a3a3a" text-anchor="end" >0.15</text>
<line x1="158.00" y1="172.35" x2="158.80" y2="172.35" stroke="#777" stroke-width="0.4" />
<line x1="158.80" y1="177.20" x2="265.00" y2="177.20" stroke="#f0f0f0" stroke-width="0.5" />
<text x="157.40" y="178.15" font-size="2.7" fill="#3a3a3a" text-anchor="end" >0.10</text>
<line x1="158.00" y1="177.20" x2="158.80" y2="177.20" stroke="#777" stroke-width="0.4" />
<line x1="158.80" y1="182.05" x2="265.00" y2="182.05" stroke="#f0f0f0" stroke-width="0.5" />
<text x="157.40" y="183.00" font-size="2.7" fill="#3a3a3a" text-anchor="end" >0.05</text>
<line x1="158.00" y1="182.05" x2="158.80" y2="182.05" stroke="#777" stroke-width="0.4" />
<line x1="158.80" y1="186.90" x2="265.00" y2="186.90" stroke="#f0f0f0" stroke-width="0.5" />
<text x="157.40" y="187.85" font-size="2.7" fill="#3a3a3a" text-anchor="end" >0.00</text>
<line x1="158.00" y1="186.90" x2="158.80" y2="186.90" stroke="#777" stroke-width="0.4" />
<line x1="158.80" y1="191.75" x2="265.00" y2="191.75" stroke="#f0f0f0" stroke-width="0.5" />
<text x="157.40" y="192.70" font-size="2.7" fill="#3a3a3a" text-anchor="end" >-0.05</text>
<line x1="158.00" y1="191.75" x2="158.80" y2="191.75" stroke="#777" stroke-width="0.4" />
<line x1="171.58" y1="145.50" x2="171.58" y2="192.80" stroke="#f2f2f2" stroke-width="0.5" />
<line x1="184.35" y1="145.50" x2="184.35" y2="192.80" stroke="#f2f2f2" stroke-width="0.5" />
<line x1="197.12" y1="145.50" x2="197.12" y2="192.80" stroke="#f2f2f2" stroke-width="0.5" />
<line x1="209.90" y1="145.50" x2="209.90" y2="192.80" stroke="#f2f2f2" stroke-width="0.5" />
<line x1="222.68" y1="145.50" x2="222.68" y2="192.80" stroke="#f2f2f2" stroke-width="0.5" />
<line x1="235.45" y1="145.50" x2="235.45" y2="192.80" stroke="#f2f2f2" stroke-width="0.5" />
<line x1="248.22" y1="145.50" x2="248.22" y2="192.80" stroke="#f2f2f2" stroke-width="0.5" />
<line x1="158.80" y1="186.90" x2="265.00" y2="186.90" stroke="#8a8a8a" stroke-width="0.6" />
<text x="0" y="0" font-size="2.7" fill="#444" text-anchor="middle" transform="translate(149.80,169.40) rotate(-90)">Enrichment score (ES)</text>
<polyline points="158.80,186.90 159.80,164.20 160.80,160.40 162.70,156.60 164.30,152.20 165.80,154.70 167.70,153.50 169.60,154.10 171.50,151.60 173.40,149.70 174.70,147.80 175.90,148.40 178.50,150.90 182.20,152.80 184.80,154.70 189.80,159.80 194.90,164.80 199.90,168.60 203.70,171.10 206.20,171.80 208.00,173.60 211.30,173.60 214.70,175.60 218.00,177.30 221.40,176.70 224.70,178.40 228.10,179.00 231.40,177.80 235.90,177.30 238.70,179.00 241.50,181.70 244.80,184.00 248.20,185.70 251.50,188.40 254.80,189.90 257.60,189.60 260.40,190.70 261.00,187.30" fill="none" stroke="#9fd86c" stroke-width="1.2" stroke-linejoin="round"/>
<text x="227.90" y="154.70" font-size="7.0" fill="#1a1a1a" stroke="#1a1a1a" stroke-width="0.15" text-anchor="start" >NES = 1.67</text>
<text x="227.90" y="163.30" font-size="7.0" fill="#1a1a1a" stroke="#1a1a1a" stroke-width="0.15">FDR &#160;= 0.01</text>
<rect x="159.10" y="193.30" width="1.00" height="15.70" fill="rgb(60,60,60)" />
<rect x="160.10" y="193.30" width="2.40" height="15.70" fill="rgb(150,150,150)" />
<rect x="162.50" y="193.30" width="2.10" height="15.70" fill="rgb(90,90,90)" />
<rect x="166.70" y="193.30" width="1.40" height="15.70" fill="rgb(120,120,120)" />
<rect x="168.10" y="193.30" width="1.00" height="15.70" fill="rgb(190,190,190)" />
<rect x="169.10" y="193.30" width="1.80" height="15.70" fill="rgb(90,90,90)" />
<rect x="170.90" y="193.30" width="1.00" height="15.70" fill="rgb(200,200,200)" />
<rect x="171.90" y="193.30" width="2.40" height="15.70" fill="rgb(110,110,110)" />
<rect x="179.20" y="193.30" width="1.30" height="15.70" fill="rgb(110,110,110)" />
<rect x="180.50" y="193.30" width="2.80" height="15.70" fill="rgb(170,170,170)" />
<rect x="185.40" y="193.30" width="1.00" height="15.70" fill="rgb(200,200,200)" />
<rect x="188.90" y="193.30" width="1.30" height="15.70" fill="rgb(130,130,130)" />
<rect x="195.80" y="193.30" width="2.10" height="15.70" fill="rgb(180,180,180)" />
<rect x="203.80" y="193.30" width="2.10" height="15.70" fill="rgb(120,120,120)" />
<rect x="205.90" y="193.30" width="1.00" height="15.70" fill="rgb(180,180,180)" />
<rect x="209.00" y="193.30" width="1.70" height="15.70" fill="rgb(70,70,70)" />
<rect x="210.70" y="193.30" width="1.10" height="15.70" fill="rgb(150,150,150)" />
<rect x="217.30" y="193.30" width="2.10" height="15.70" fill="rgb(80,80,80)" />
<rect x="220.80" y="193.30" width="1.40" height="15.70" fill="rgb(110,110,110)" />
<rect x="224.20" y="193.30" width="2.30" height="15.70" fill="rgb(130,130,130)" />
<rect x="226.50" y="193.30" width="1.80" height="15.70" fill="rgb(200,200,200)" />
<rect x="229.40" y="193.30" width="1.40" height="15.70" fill="rgb(90,90,90)" />
<rect x="230.80" y="193.30" width="1.10" height="15.70" fill="rgb(190,190,190)" />
<rect x="231.90" y="193.30" width="1.90" height="15.70" fill="rgb(120,120,120)" />
<rect x="233.80" y="193.30" width="2.20" height="15.70" fill="rgb(180,180,180)" />
<rect x="244.70" y="193.30" width="1.50" height="15.70" fill="rgb(120,120,120)" />
<rect x="253.90" y="193.30" width="1.10" height="15.70" fill="rgb(140,140,140)" />
<rect x="255.00" y="193.30" width="1.40" height="15.70" fill="rgb(200,200,200)" />
<rect x="260.10" y="193.30" width="1.10" height="15.70" fill="rgb(130,130,130)" />
<rect x="158.80" y="209.00" width="102.20" height="3.80" fill="url(#cbb2)"/>
<defs><linearGradient id="cbb2" x1="0" x2="1" y1="0" y2="0"><stop offset="0.000" stop-color="#d64a56"/><stop offset="0.230" stop-color="#d85662"/><stop offset="0.255" stop-color="#e8a8b4"/><stop offset="0.290" stop-color="#e4dcf2"/><stop offset="0.400" stop-color="#ccccf4"/><stop offset="0.550" stop-color="#a8a8ec"/><stop offset="0.560" stop-color="#8a8ae4"/><stop offset="0.680" stop-color="#7676e0"/><stop offset="0.690" stop-color="#5c5cd8"/><stop offset="0.910" stop-color="#4c4cd2"/><stop offset="0.920" stop-color="#2222c4"/><stop offset="1.000" stop-color="#1414bc"/></linearGradient></defs>
<path d="M158.80,226.90 L159.40,227.90 L162.89,228.70 L171.06,229.70 L179.24,230.50 L185.37,231.10 L204.79,231.80 L220.12,232.40 L235.45,233.10 L248.74,233.90 L256.91,234.70 L260.20,235.70 L261.00,237.60 L261.00,231.10 L158.80,231.10 Z" fill="#cacaca"/>
<path d="M158.80,226.90 L159.40,227.90 L162.89,228.70 L171.06,229.70 L179.24,230.50 L185.37,231.10 L204.79,231.80 L220.12,232.40 L235.45,233.10 L248.74,233.90 L256.91,234.70 L260.20,235.70 L261.00,237.60" fill="none" stroke="#a0a0a0" stroke-width="0.5"/>
<line x1="158.80" y1="231.10" x2="261.00" y2="231.10" stroke="#9a9a9a" stroke-width="0.4" />
<text x="180.77" y="228.90" font-size="2.45" fill="#222" text-anchor="start" >Zero cross at 6985</text>
<text x="211.94" y="242.70" font-size="2.45" fill="#3a3ad0" text-anchor="start" >'na_neg' (negatively correlated)</text>
<text x="157.30" y="217.10" font-size="2.4" fill="#555" text-anchor="end" >8</text>
<text x="157.30" y="222.90" font-size="2.4" fill="#555" text-anchor="end" >6</text>
<text x="157.30" y="228.70" font-size="2.4" fill="#555" text-anchor="end" >4</text>
<text x="157.30" y="234.50" font-size="2.4" fill="#555" text-anchor="end" >2</text>
<text x="157.30" y="240.30" font-size="2.4" fill="#555" text-anchor="end" >0</text>
<text x="157.30" y="246.10" font-size="2.4" fill="#555" text-anchor="end" >-2</text>
<text x="0" y="0" font-size="2.9" fill="#333" text-anchor="middle" transform="translate(149.90,228.00) rotate(-90)">Ranked list metric (PreRanked)</text>
<line x1="158.80" y1="246.80" x2="261.00" y2="246.80" stroke="#777" stroke-width="0.5" />
<text x="158.80" y="249.60" font-size="2.7" fill="#333" text-anchor="middle" >0</text>
<text x="171.58" y="249.60" font-size="2.7" fill="#333" text-anchor="middle" >2,500</text>
<text x="184.35" y="249.60" font-size="2.7" fill="#333" text-anchor="middle" >5,000</text>
<text x="197.12" y="249.60" font-size="2.7" fill="#333" text-anchor="middle" >7,500</text>
<text x="209.90" y="249.60" font-size="2.7" fill="#333" text-anchor="middle" >10,000</text>
<text x="222.68" y="249.60" font-size="2.7" fill="#333" text-anchor="middle" >12,500</text>
<text x="235.45" y="249.60" font-size="2.7" fill="#333" text-anchor="middle" >15,000</text>
<text x="248.22" y="249.60" font-size="2.7" fill="#333" text-anchor="middle" >17,500</text>
<text x="261.00" y="249.60" font-size="2.7" fill="#333" text-anchor="middle" >20,000</text>
<text x="211.90" y="253.10" font-size="3.0" fill="#555" text-anchor="middle" >Rank in Ordered Dataset</text>
<rect x="162.70" y="255.70" width="86.00" height="4.4" fill="#fff" stroke="#666" stroke-width="0.45"/>
<line x1="164.40" y1="257.90" x2="167.50" y2="257.90" stroke="#9fd86c" stroke-width="0.7" />
<text x="168.40" y="258.90" font-size="3.1" fill="#555" text-anchor="start" >Enrichment profile</text>
<text x="194.30" y="258.90" font-size="3.1" fill="#555" text-anchor="start" >— Hits</text>
<line x1="207.30" y1="257.90" x2="214.20" y2="257.90" stroke="#ccc" stroke-width="0.6" />
<text x="215.10" y="258.90" font-size="3.1" fill="#555" text-anchor="start" >Ranking metric scores</text>
<text x="164.00" y="223.00" font-size="7.0" font-weight="bold" fill="#000" stroke="#000" stroke-width="0.22" text-anchor="start" >MCL-SOX11+</text>
<text x="217.70" y="223.00" font-size="7.0" font-weight="bold" fill="#000" stroke="#000" stroke-width="0.22" text-anchor="start" >MCL-SOX11-</text>
<text x="165.00" y="143.20" font-size="7.9" font-weight="bold" fill="#000" stroke="#000" stroke-width="0.22" text-anchor="start" >PAX5 activated genes</text>
<rect x="11.00" y="278.80" width="122.60" height="117.20" fill="#ecebdb" />
<rect x="11.00" y="278.80" width="2.50" height="117.20" fill="#e6e4d6" />
<rect x="26.30" y="279.80" width="105.90" height="101.30" fill="#ffffff" />
<rect x="26.30" y="279.80" width="105.90" height="47.30" fill="none" stroke="#d8d8d8" stroke-width="0.5"/>
<line x1="26.30" y1="284.80" x2="132.20" y2="284.80" stroke="#f0f0f0" stroke-width="0.5" />
<text x="24.90" y="285.75" font-size="2.7" fill="#3a3a3a" text-anchor="end" >0.00</text>
<line x1="25.50" y1="284.80" x2="26.30" y2="284.80" stroke="#777" stroke-width="0.4" />
<line x1="26.30" y1="289.83" x2="132.20" y2="289.83" stroke="#f0f0f0" stroke-width="0.5" />
<text x="24.90" y="290.78" font-size="2.7" fill="#3a3a3a" text-anchor="end" >-0.05</text>
<line x1="25.50" y1="289.83" x2="26.30" y2="289.83" stroke="#777" stroke-width="0.4" />
<line x1="26.30" y1="294.86" x2="132.20" y2="294.86" stroke="#f0f0f0" stroke-width="0.5" />
<text x="24.90" y="295.81" font-size="2.7" fill="#3a3a3a" text-anchor="end" >-0.10</text>
<line x1="25.50" y1="294.86" x2="26.30" y2="294.86" stroke="#777" stroke-width="0.4" />
<line x1="26.30" y1="299.89" x2="132.20" y2="299.89" stroke="#f0f0f0" stroke-width="0.5" />
<text x="24.90" y="300.84" font-size="2.7" fill="#3a3a3a" text-anchor="end" >-0.15</text>
<line x1="25.50" y1="299.89" x2="26.30" y2="299.89" stroke="#777" stroke-width="0.4" />
<line x1="26.30" y1="304.92" x2="132.20" y2="304.92" stroke="#f0f0f0" stroke-width="0.5" />
<text x="24.90" y="305.87" font-size="2.7" fill="#3a3a3a" text-anchor="end" >-0.20</text>
<line x1="25.50" y1="304.92" x2="26.30" y2="304.92" stroke="#777" stroke-width="0.4" />
<line x1="26.30" y1="309.95" x2="132.20" y2="309.95" stroke="#f0f0f0" stroke-width="0.5" />
<text x="24.90" y="310.90" font-size="2.7" fill="#3a3a3a" text-anchor="end" >-0.25</text>
<line x1="25.50" y1="309.95" x2="26.30" y2="309.95" stroke="#777" stroke-width="0.4" />
<line x1="26.30" y1="314.98" x2="132.20" y2="314.98" stroke="#f0f0f0" stroke-width="0.5" />
<text x="24.90" y="315.93" font-size="2.7" fill="#3a3a3a" text-anchor="end" >-0.30</text>
<line x1="25.50" y1="314.98" x2="26.30" y2="314.98" stroke="#777" stroke-width="0.4" />
<line x1="26.30" y1="320.01" x2="132.20" y2="320.01" stroke="#f0f0f0" stroke-width="0.5" />
<text x="24.90" y="320.96" font-size="2.7" fill="#3a3a3a" text-anchor="end" >-0.35</text>
<line x1="25.50" y1="320.01" x2="26.30" y2="320.01" stroke="#777" stroke-width="0.4" />
<line x1="26.30" y1="325.04" x2="132.20" y2="325.04" stroke="#f0f0f0" stroke-width="0.5" />
<text x="24.90" y="325.99" font-size="2.7" fill="#3a3a3a" text-anchor="end" >-0.40</text>
<line x1="25.50" y1="325.04" x2="26.30" y2="325.04" stroke="#777" stroke-width="0.4" />
<line x1="38.85" y1="279.80" x2="38.85" y2="327.10" stroke="#f2f2f2" stroke-width="0.5" />
<line x1="51.40" y1="279.80" x2="51.40" y2="327.10" stroke="#f2f2f2" stroke-width="0.5" />
<line x1="63.95" y1="279.80" x2="63.95" y2="327.10" stroke="#f2f2f2" stroke-width="0.5" />
<line x1="76.50" y1="279.80" x2="76.50" y2="327.10" stroke="#f2f2f2" stroke-width="0.5" />
<line x1="89.05" y1="279.80" x2="89.05" y2="327.10" stroke="#f2f2f2" stroke-width="0.5" />
<line x1="101.60" y1="279.80" x2="101.60" y2="327.10" stroke="#f2f2f2" stroke-width="0.5" />
<line x1="114.15" y1="279.80" x2="114.15" y2="327.10" stroke="#f2f2f2" stroke-width="0.5" />
<line x1="26.30" y1="284.80" x2="132.20" y2="284.80" stroke="#8a8a8a" stroke-width="0.6" />
<text x="0" y="0" font-size="2.7" fill="#444" text-anchor="middle" transform="translate(16.90,303.70) rotate(-90)">Enrichment score (ES)</text>
<polyline points="26.30,284.60 29.40,285.30 33.00,283.60 36.50,283.80 40.00,284.80 43.80,285.10 47.60,286.90 52.60,291.40 57.70,295.80 62.70,300.20 67.80,304.60 72.80,309.10 77.90,312.60 82.90,315.40 88.00,318.00 90.00,319.50 95.10,322.30 100.10,324.20 104.50,324.90 105.80,323.00 107.70,321.10 112.10,320.50 115.30,318.90 117.20,317.30 120.30,313.50 122.90,309.10 124.80,301.50 126.70,292.60 127.90,285.10" fill="none" stroke="#9fd86c" stroke-width="1.2" stroke-linejoin="round"/>
<text x="85.00" y="294.30" font-size="7.0" fill="#1a1a1a" stroke="#1a1a1a" stroke-width="0.15" text-anchor="start" >NES = -2.06</text>
<text x="85.00" y="302.90" font-size="7.0" fill="#1a1a1a" stroke="#1a1a1a" stroke-width="0.15">FDR &lt; 10<tspan font-size="4.6" dy="-2.6">-4</tspan></text>
<rect x="27.80" y="327.60" width="1.70" height="15.70" fill="rgb(110,110,110)" />
<rect x="29.50" y="327.60" width="1.40" height="15.70" fill="rgb(190,190,190)" />
<rect x="30.90" y="327.60" width="1.80" height="15.70" fill="rgb(60,60,60)" />
<rect x="32.70" y="327.60" width="1.00" height="15.70" fill="rgb(200,200,200)" />
<rect x="33.70" y="327.60" width="3.10" height="15.70" fill="rgb(150,150,150)" />
<rect x="36.80" y="327.60" width="1.10" height="15.70" fill="rgb(80,80,80)" />
<rect x="37.90" y="327.60" width="2.00" height="15.70" fill="rgb(170,170,170)" />
<rect x="39.90" y="327.60" width="4.20" height="15.70" fill="rgb(80,80,80)" />
<rect x="45.10" y="327.60" width="1.80" height="15.70" fill="rgb(130,130,130)" />
<rect x="46.90" y="327.60" width="6.20" height="15.70" fill="rgb(165,165,165)" />
<rect x="53.10" y="327.60" width="1.70" height="15.70" fill="rgb(220,220,220)" />
<rect x="54.80" y="327.60" width="3.10" height="15.70" fill="rgb(70,70,70)" />
<rect x="57.90" y="327.60" width="0.80" height="15.70" fill="rgb(130,130,130)" />
<rect x="58.70" y="327.60" width="1.70" height="15.70" fill="rgb(60,60,60)" />
<rect x="60.40" y="327.60" width="1.10" height="15.70" fill="rgb(130,130,130)" />
<rect x="61.50" y="327.60" width="2.40" height="15.70" fill="rgb(50,50,50)" />
<rect x="66.00" y="327.60" width="1.30" height="15.70" fill="rgb(60,60,60)" />
<rect x="67.30" y="327.60" width="1.80" height="15.70" fill="rgb(150,150,150)" />
<rect x="69.10" y="327.60" width="2.40" height="15.70" fill="rgb(200,200,200)" />
<rect x="71.50" y="327.60" width="2.10" height="15.70" fill="rgb(70,70,70)" />
<rect x="73.60" y="327.60" width="3.80" height="15.70" fill="rgb(140,140,140)" />
<rect x="78.80" y="327.60" width="2.70" height="15.70" fill="rgb(30,30,30)" />
<rect x="81.50" y="327.60" width="1.40" height="15.70" fill="rgb(150,150,150)" />
<rect x="82.90" y="327.60" width="2.80" height="15.70" fill="rgb(200,200,200)" />
<rect x="87.10" y="327.60" width="1.70" height="15.70" fill="rgb(60,60,60)" />
<rect x="88.80" y="327.60" width="4.30" height="15.70" fill="rgb(110,110,110)" />
<rect x="93.10" y="327.60" width="2.90" height="15.70" fill="rgb(200,200,200)" />
<rect x="97.10" y="327.60" width="2.90" height="15.70" fill="rgb(110,110,110)" />
<rect x="100.00" y="327.60" width="1.50" height="15.70" fill="rgb(180,180,180)" />
<rect x="101.50" y="327.60" width="1.50" height="15.70" fill="rgb(110,110,110)" />
<rect x="104.10" y="327.60" width="2.90" height="15.70" fill="rgb(50,50,50)" />
<rect x="107.00" y="327.60" width="1.80" height="15.70" fill="rgb(170,170,170)" />
<rect x="108.80" y="327.60" width="2.20" height="15.70" fill="rgb(90,90,90)" />
<rect x="112.10" y="327.60" width="2.60" height="15.70" fill="rgb(100,100,100)" />
<rect x="114.70" y="327.60" width="3.30" height="15.70" fill="rgb(20,20,20)" />
<rect x="118.00" y="327.60" width="2.10" height="15.70" fill="rgb(180,180,180)" />
<rect x="120.10" y="327.60" width="2.60" height="15.70" fill="rgb(50,50,50)" />
<rect x="122.70" y="327.60" width="1.50" height="15.70" fill="rgb(120,120,120)" />
<rect x="124.20" y="327.60" width="2.50" height="15.70" fill="rgb(40,40,40)" />
<rect x="26.30" y="343.30" width="100.40" height="3.80" fill="url(#cbb3)"/>
<defs><linearGradient id="cbb3" x1="0" x2="1" y1="0" y2="0"><stop offset="0.000" stop-color="#d64a56"/><stop offset="0.230" stop-color="#d85662"/><stop offset="0.255" stop-color="#e8a8b4"/><stop offset="0.290" stop-color="#e4dcf2"/><stop offset="0.400" stop-color="#ccccf4"/><stop offset="0.550" stop-color="#a8a8ec"/><stop offset="0.560" stop-color="#8a8ae4"/><stop offset="0.680" stop-color="#7676e0"/><stop offset="0.690" stop-color="#5c5cd8"/><stop offset="0.910" stop-color="#4c4cd2"/><stop offset="0.920" stop-color="#2222c4"/><stop offset="1.000" stop-color="#1414bc"/></linearGradient></defs>
<path d="M26.30,361.20 L26.90,362.20 L30.32,363.00 L38.35,364.00 L46.38,364.80 L52.40,365.40 L71.48,366.10 L86.54,366.70 L101.60,367.40 L114.65,368.20 L122.68,369.00 L125.90,370.00 L126.70,371.90 L126.70,365.40 L26.30,365.40 Z" fill="#cacaca"/>
<path d="M26.30,361.20 L26.90,362.20 L30.32,363.00 L38.35,364.00 L46.38,364.80 L52.40,365.40 L71.48,366.10 L86.54,366.70 L101.60,367.40 L114.65,368.20 L122.68,369.00 L125.90,370.00 L126.70,371.90" fill="none" stroke="#a0a0a0" stroke-width="0.5"/>
<line x1="26.30" y1="365.40" x2="126.70" y2="365.40" stroke="#9a9a9a" stroke-width="0.4" />
<text x="47.89" y="363.20" font-size="2.45" fill="#222" text-anchor="start" >Zero cross at 6985</text>
<text x="78.51" y="377.00" font-size="2.45" fill="#3a3ad0" text-anchor="start" >'na_neg' (negatively correlated)</text>
<text x="24.80" y="351.40" font-size="2.4" fill="#555" text-anchor="end" >8</text>
<text x="24.80" y="357.20" font-size="2.4" fill="#555" text-anchor="end" >6</text>
<text x="24.80" y="363.00" font-size="2.4" fill="#555" text-anchor="end" >4</text>
<text x="24.80" y="368.80" font-size="2.4" fill="#555" text-anchor="end" >2</text>
<text x="24.80" y="374.60" font-size="2.4" fill="#555" text-anchor="end" >0</text>
<text x="24.80" y="380.40" font-size="2.4" fill="#555" text-anchor="end" >-2</text>
<text x="0" y="0" font-size="2.9" fill="#333" text-anchor="middle" transform="translate(17.00,362.30) rotate(-90)">Ranked list metric (PreRanked)</text>
<line x1="26.30" y1="381.10" x2="126.70" y2="381.10" stroke="#777" stroke-width="0.5" />
<text x="26.30" y="383.90" font-size="2.7" fill="#333" text-anchor="middle" >0</text>
<text x="38.85" y="383.90" font-size="2.7" fill="#333" text-anchor="middle" >2,500</text>
<text x="51.40" y="383.90" font-size="2.7" fill="#333" text-anchor="middle" >5,000</text>
<text x="63.95" y="383.90" font-size="2.7" fill="#333" text-anchor="middle" >7,500</text>
<text x="76.50" y="383.90" font-size="2.7" fill="#333" text-anchor="middle" >10,000</text>
<text x="89.05" y="383.90" font-size="2.7" fill="#333" text-anchor="middle" >12,500</text>
<text x="101.60" y="383.90" font-size="2.7" fill="#333" text-anchor="middle" >15,000</text>
<text x="114.15" y="383.90" font-size="2.7" fill="#333" text-anchor="middle" >17,500</text>
<text x="126.70" y="383.90" font-size="2.7" fill="#333" text-anchor="middle" >20,000</text>
<text x="78.50" y="387.40" font-size="3.0" fill="#555" text-anchor="middle" >Rank in Ordered Dataset</text>
<rect x="30.20" y="390.00" width="84.20" height="4.4" fill="#fff" stroke="#666" stroke-width="0.45"/>
<line x1="31.90" y1="392.20" x2="35.00" y2="392.20" stroke="#9fd86c" stroke-width="0.7" />
<text x="35.90" y="393.20" font-size="3.1" fill="#555" text-anchor="start" >Enrichment profile</text>
<text x="61.80" y="393.20" font-size="3.1" fill="#555" text-anchor="start" >— Hits</text>
<line x1="74.80" y1="392.20" x2="81.70" y2="392.20" stroke="#ccc" stroke-width="0.6" />
<text x="82.60" y="393.20" font-size="3.1" fill="#555" text-anchor="start" >Ranking metric scores</text>
<text x="32.00" y="357.30" font-size="7.0" font-weight="bold" fill="#000" stroke="#000" stroke-width="0.22" text-anchor="start" >MCL-SOX11+</text>
<text x="83.50" y="357.30" font-size="7.0" font-weight="bold" fill="#000" stroke="#000" stroke-width="0.22" text-anchor="start" >MCL-SOX11-</text>
<text x="30.40" y="277.20" font-size="7.9" font-weight="bold" fill="#000" stroke="#000" stroke-width="0.22" text-anchor="start" >Plasmablast signature</text>
<rect x="143.90" y="278.80" width="120.50" height="117.20" fill="#ecebdb" />
<rect x="143.90" y="278.80" width="2.50" height="117.20" fill="#e6e4d6" />
<rect x="159.20" y="279.80" width="103.90" height="101.30" fill="#ffffff" />
<rect x="159.20" y="279.80" width="103.90" height="47.30" fill="none" stroke="#d8d8d8" stroke-width="0.5"/>
<line x1="159.20" y1="284.40" x2="263.10" y2="284.40" stroke="#f0f0f0" stroke-width="0.5" />
<text x="157.80" y="285.35" font-size="2.7" fill="#3a3a3a" text-anchor="end" >0.05</text>
<line x1="158.40" y1="284.40" x2="159.20" y2="284.40" stroke="#777" stroke-width="0.4" />
<line x1="159.20" y1="290.15" x2="263.10" y2="290.15" stroke="#f0f0f0" stroke-width="0.5" />
<text x="157.80" y="291.10" font-size="2.7" fill="#3a3a3a" text-anchor="end" >0.00</text>
<line x1="158.40" y1="290.15" x2="159.20" y2="290.15" stroke="#777" stroke-width="0.4" />
<line x1="159.20" y1="295.90" x2="263.10" y2="295.90" stroke="#f0f0f0" stroke-width="0.5" />
<text x="157.80" y="296.85" font-size="2.7" fill="#3a3a3a" text-anchor="end" >-0.05</text>
<line x1="158.40" y1="295.90" x2="159.20" y2="295.90" stroke="#777" stroke-width="0.4" />
<line x1="159.20" y1="301.65" x2="263.10" y2="301.65" stroke="#f0f0f0" stroke-width="0.5" />
<text x="157.80" y="302.60" font-size="2.7" fill="#3a3a3a" text-anchor="end" >-0.10</text>
<line x1="158.40" y1="301.65" x2="159.20" y2="301.65" stroke="#777" stroke-width="0.4" />
<line x1="159.20" y1="307.40" x2="263.10" y2="307.40" stroke="#f0f0f0" stroke-width="0.5" />
<text x="157.80" y="308.35" font-size="2.7" fill="#3a3a3a" text-anchor="end" >-0.15</text>
<line x1="158.40" y1="307.40" x2="159.20" y2="307.40" stroke="#777" stroke-width="0.4" />
<line x1="159.20" y1="313.15" x2="263.10" y2="313.15" stroke="#f0f0f0" stroke-width="0.5" />
<text x="157.80" y="314.10" font-size="2.7" fill="#3a3a3a" text-anchor="end" >-0.20</text>
<line x1="158.40" y1="313.15" x2="159.20" y2="313.15" stroke="#777" stroke-width="0.4" />
<line x1="159.20" y1="318.90" x2="263.10" y2="318.90" stroke="#f0f0f0" stroke-width="0.5" />
<text x="157.80" y="319.85" font-size="2.7" fill="#3a3a3a" text-anchor="end" >-0.25</text>
<line x1="158.40" y1="318.90" x2="159.20" y2="318.90" stroke="#777" stroke-width="0.4" />
<line x1="159.20" y1="324.65" x2="263.10" y2="324.65" stroke="#f0f0f0" stroke-width="0.5" />
<text x="157.80" y="325.60" font-size="2.7" fill="#3a3a3a" text-anchor="end" >-0.30</text>
<line x1="158.40" y1="324.65" x2="159.20" y2="324.65" stroke="#777" stroke-width="0.4" />
<line x1="171.77" y1="279.80" x2="171.77" y2="327.10" stroke="#f2f2f2" stroke-width="0.5" />
<line x1="184.35" y1="279.80" x2="184.35" y2="327.10" stroke="#f2f2f2" stroke-width="0.5" />
<line x1="196.93" y1="279.80" x2="196.93" y2="327.10" stroke="#f2f2f2" stroke-width="0.5" />
<line x1="209.50" y1="279.80" x2="209.50" y2="327.10" stroke="#f2f2f2" stroke-width="0.5" />
<line x1="222.07" y1="279.80" x2="222.07" y2="327.10" stroke="#f2f2f2" stroke-width="0.5" />
<line x1="234.65" y1="279.80" x2="234.65" y2="327.10" stroke="#f2f2f2" stroke-width="0.5" />
<line x1="247.23" y1="279.80" x2="247.23" y2="327.10" stroke="#f2f2f2" stroke-width="0.5" />
<line x1="159.20" y1="290.30" x2="263.10" y2="290.30" stroke="#8a8a8a" stroke-width="0.6" />
<text x="0" y="0" font-size="2.7" fill="#444" text-anchor="middle" transform="translate(149.80,303.70) rotate(-90)">Enrichment score (ES)</text>
<polyline points="159.20,290.20 159.80,287.50 161.40,284.30 163.30,286.20 165.20,284.30 167.10,285.60 169.00,284.10 170.90,286.20 172.80,283.00 174.70,284.90 177.20,288.10 179.70,288.70 182.90,289.10 184.80,291.20 188.50,295.70 193.60,302.00 198.60,307.70 203.70,311.10 208.00,312.90 212.50,315.90 217.10,318.00 221.60,320.30 226.20,322.50 230.70,324.20 233.00,323.10 236.40,322.50 239.80,320.80 244.40,319.10 248.90,317.40 253.50,315.70 255.80,314.00 258.00,306.60 259.70,304.30 260.30,290.70" fill="none" stroke="#9fd86c" stroke-width="1.2" stroke-linejoin="round"/>
<text x="216.30" y="296.80" font-size="7.0" fill="#1a1a1a" stroke="#1a1a1a" stroke-width="0.15" text-anchor="start" >NES = &#160;-1.34</text>
<text x="216.30" y="305.40" font-size="7.0" fill="#1a1a1a" stroke="#1a1a1a" stroke-width="0.15">FDR &#160;= 0.1</text>
<rect x="159.80" y="327.60" width="1.40" height="15.70" fill="rgb(140,140,140)" />
<rect x="161.20" y="327.60" width="1.00" height="15.70" fill="rgb(200,200,200)" />
<rect x="162.20" y="327.60" width="1.40" height="15.70" fill="rgb(130,130,130)" />
<rect x="163.60" y="327.60" width="1.40" height="15.70" fill="rgb(210,210,210)" />
<rect x="165.00" y="327.60" width="2.00" height="15.70" fill="rgb(110,110,110)" />
<rect x="167.00" y="327.60" width="1.40" height="15.70" fill="rgb(200,200,200)" />
<rect x="168.40" y="327.60" width="1.10" height="15.70" fill="rgb(150,150,150)" />
<rect x="171.20" y="327.60" width="1.70" height="15.70" fill="rgb(30,30,30)" />
<rect x="177.80" y="327.60" width="2.70" height="15.70" fill="rgb(120,120,120)" />
<rect x="180.50" y="327.60" width="1.40" height="15.70" fill="rgb(180,180,180)" />
<rect x="186.10" y="327.60" width="1.40" height="15.70" fill="rgb(150,150,150)" />
<rect x="187.50" y="327.60" width="1.00" height="15.70" fill="rgb(200,200,200)" />
<rect x="188.50" y="327.60" width="1.40" height="15.70" fill="rgb(50,50,50)" />
<rect x="193.80" y="327.60" width="2.40" height="15.70" fill="rgb(110,110,110)" />
<rect x="196.20" y="327.60" width="3.80" height="15.70" fill="rgb(200,200,200)" />
<rect x="201.00" y="327.60" width="1.40" height="15.70" fill="rgb(120,120,120)" />
<rect x="202.40" y="327.60" width="2.10" height="15.70" fill="rgb(70,70,70)" />
<rect x="204.50" y="327.60" width="1.40" height="15.70" fill="rgb(170,170,170)" />
<rect x="205.90" y="327.60" width="2.10" height="15.70" fill="rgb(120,120,120)" />
<rect x="208.00" y="327.60" width="1.70" height="15.70" fill="rgb(90,90,90)" />
<rect x="211.10" y="327.60" width="2.10" height="15.70" fill="rgb(180,180,180)" />
<rect x="213.20" y="327.60" width="1.70" height="15.70" fill="rgb(150,150,150)" />
<rect x="216.60" y="327.60" width="2.80" height="15.70" fill="rgb(70,70,70)" />
<rect x="219.40" y="327.60" width="1.00" height="15.70" fill="rgb(150,150,150)" />
<rect x="220.40" y="327.60" width="1.40" height="15.70" fill="rgb(100,100,100)" />
<rect x="221.80" y="327.60" width="1.70" height="15.70" fill="rgb(200,200,200)" />
<rect x="223.50" y="327.60" width="1.40" height="15.70" fill="rgb(130,130,130)" />
<rect x="226.50" y="327.60" width="2.90" height="15.70" fill="rgb(230,230,230)" />
<rect x="229.40" y="327.60" width="1.80" height="15.70" fill="rgb(50,50,50)" />
<rect x="231.20" y="327.60" width="1.50" height="15.70" fill="rgb(200,200,200)" />
<rect x="232.70" y="327.60" width="2.20" height="15.70" fill="rgb(120,120,120)" />
<rect x="236.00" y="327.60" width="1.80" height="15.70" fill="rgb(130,130,130)" />
<rect x="238.90" y="327.60" width="1.80" height="15.70" fill="rgb(90,90,90)" />
<rect x="242.50" y="327.60" width="3.70" height="15.70" fill="rgb(170,170,170)" />
<rect x="246.90" y="327.60" width="2.20" height="15.70" fill="rgb(140,140,140)" />
<rect x="249.10" y="327.60" width="1.10" height="15.70" fill="rgb(190,190,190)" />
<rect x="250.20" y="327.60" width="3.30" height="15.70" fill="rgb(150,150,150)" />
<rect x="253.50" y="327.60" width="2.20" height="15.70" fill="rgb(70,70,70)" />
<rect x="255.70" y="327.60" width="1.50" height="15.70" fill="rgb(150,150,150)" />
<rect x="257.20" y="327.60" width="2.20" height="15.70" fill="rgb(90,90,90)" />
<rect x="159.20" y="343.30" width="100.60" height="3.80" fill="url(#cbb4)"/>
<defs><linearGradient id="cbb4" x1="0" x2="1" y1="0" y2="0"><stop offset="0.000" stop-color="#d64a56"/><stop offset="0.230" stop-color="#d85662"/><stop offset="0.255" stop-color="#e8a8b4"/><stop offset="0.290" stop-color="#e4dcf2"/><stop offset="0.400" stop-color="#ccccf4"/><stop offset="0.550" stop-color="#a8a8ec"/><stop offset="0.560" stop-color="#8a8ae4"/><stop offset="0.680" stop-color="#7676e0"/><stop offset="0.690" stop-color="#5c5cd8"/><stop offset="0.910" stop-color="#4c4cd2"/><stop offset="0.920" stop-color="#2222c4"/><stop offset="1.000" stop-color="#1414bc"/></linearGradient></defs>
<path d="M159.20,361.20 L159.80,362.20 L163.22,363.00 L171.27,364.00 L179.32,364.80 L185.36,365.40 L204.47,366.10 L219.56,366.70 L234.65,367.40 L247.73,368.20 L255.78,369.00 L259.00,370.00 L259.80,371.90 L259.80,365.40 L159.20,365.40 Z" fill="#cacaca"/>
<path d="M159.20,361.20 L159.80,362.20 L163.22,363.00 L171.27,364.00 L179.32,364.80 L185.36,365.40 L204.47,366.10 L219.56,366.70 L234.65,367.40 L247.73,368.20 L255.78,369.00 L259.00,370.00 L259.80,371.90" fill="none" stroke="#a0a0a0" stroke-width="0.5"/>
<line x1="159.20" y1="365.40" x2="259.80" y2="365.40" stroke="#9a9a9a" stroke-width="0.4" />
<text x="180.83" y="363.20" font-size="2.45" fill="#222" text-anchor="start" >Zero cross at 6985</text>
<text x="211.51" y="377.00" font-size="2.45" fill="#3a3ad0" text-anchor="start" >'na_neg' (negatively correlated)</text>
<text x="157.70" y="351.40" font-size="2.4" fill="#555" text-anchor="end" >8</text>
<text x="157.70" y="357.20" font-size="2.4" fill="#555" text-anchor="end" >6</text>
<text x="157.70" y="363.00" font-size="2.4" fill="#555" text-anchor="end" >4</text>
<text x="157.70" y="368.80" font-size="2.4" fill="#555" text-anchor="end" >2</text>
<text x="157.70" y="374.60" font-size="2.4" fill="#555" text-anchor="end" >0</text>
<text x="157.70" y="380.40" font-size="2.4" fill="#555" text-anchor="end" >-2</text>
<text x="0" y="0" font-size="2.9" fill="#333" text-anchor="middle" transform="translate(149.90,362.30) rotate(-90)">Ranked list metric (PreRanked)</text>
<line x1="159.20" y1="381.10" x2="259.80" y2="381.10" stroke="#777" stroke-width="0.5" />
<text x="159.20" y="383.90" font-size="2.7" fill="#333" text-anchor="middle" >0</text>
<text x="171.77" y="383.90" font-size="2.7" fill="#333" text-anchor="middle" >2,500</text>
<text x="184.35" y="383.90" font-size="2.7" fill="#333" text-anchor="middle" >5,000</text>
<text x="196.93" y="383.90" font-size="2.7" fill="#333" text-anchor="middle" >7,500</text>
<text x="209.50" y="383.90" font-size="2.7" fill="#333" text-anchor="middle" >10,000</text>
<text x="222.07" y="383.90" font-size="2.7" fill="#333" text-anchor="middle" >12,500</text>
<text x="234.65" y="383.90" font-size="2.7" fill="#333" text-anchor="middle" >15,000</text>
<text x="247.23" y="383.90" font-size="2.7" fill="#333" text-anchor="middle" >17,500</text>
<text x="259.80" y="383.90" font-size="2.7" fill="#333" text-anchor="middle" >20,000</text>
<text x="211.50" y="387.40" font-size="3.0" fill="#555" text-anchor="middle" >Rank in Ordered Dataset</text>
<rect x="163.10" y="390.00" width="84.40" height="4.4" fill="#fff" stroke="#666" stroke-width="0.45"/>
<line x1="164.80" y1="392.20" x2="167.90" y2="392.20" stroke="#9fd86c" stroke-width="0.7" />
<text x="168.80" y="393.20" font-size="3.1" fill="#555" text-anchor="start" >Enrichment profile</text>
<text x="194.70" y="393.20" font-size="3.1" fill="#555" text-anchor="start" >— Hits</text>
<line x1="207.70" y1="392.20" x2="214.60" y2="392.20" stroke="#ccc" stroke-width="0.6" />
<text x="215.50" y="393.20" font-size="3.1" fill="#555" text-anchor="start" >Ranking metric scores</text>
<text x="163.80" y="357.30" font-size="7.0" font-weight="bold" fill="#000" stroke="#000" stroke-width="0.22" text-anchor="start" >MCL-SOX11+</text>
<text x="216.30" y="357.30" font-size="7.0" font-weight="bold" fill="#000" stroke="#000" stroke-width="0.22" text-anchor="start" >MCL-SOX11-</text>
<text x="170.80" y="277.20" font-size="7.9" font-weight="bold" fill="#000" stroke="#000" stroke-width="0.22" text-anchor="start" >XBP1 target genes</text>
<text x="0.80" y="9.10" font-size="11.3" font-weight="bold" fill="#000" stroke="#000" stroke-width="0.22" text-anchor="start" >A</text>
<text x="0.50" y="142.80" font-size="11.3" font-weight="bold" fill="#000" stroke="#000" stroke-width="0.22" text-anchor="start" >B</text>
<text x="280.50" y="11.20" font-size="11.3" font-weight="bold" fill="#000" stroke="#000" stroke-width="0.22" text-anchor="start" >C</text>
<text x="351.50" y="206.00" font-size="11.3" font-weight="bold" fill="#000" stroke="#000" stroke-width="0.22" text-anchor="start" >D</text>
<text x="344.90" y="16.10" font-size="7.8" font-weight="bold" fill="#000" stroke="#000" stroke-width="0.22" text-anchor="middle" >MCL-SOX11+</text>
<text x="467.00" y="16.10" font-size="7.8" font-weight="bold" fill="#000" stroke="#000" stroke-width="0.22" text-anchor="middle" >MCL-SOX11-</text>
<line x1="294.20" y1="22.20" x2="396.20" y2="22.20" stroke="#333" stroke-width="0.9" />
<line x1="416.20" y1="22.20" x2="517.60" y2="22.20" stroke="#333" stroke-width="0.9" />
<defs><filter id="bl1" x="-50%" y="-50%" width="200%" height="200%"><feGaussianBlur stdDeviation="0.7"/></filter><filter id="bl2" x="-50%" y="-50%" width="200%" height="200%"><feGaussianBlur stdDeviation="1.1"/></filter></defs>
<rect x="295.90" y="39.60" width="27.30" height="27.40" fill="#fff" stroke="#cfcfcf" stroke-width="0.5"/>
<line x1="307.00" y1="39.60" x2="307.00" y2="67.00" stroke="#b4b4b4" stroke-width="0.45" />
<line x1="295.90" y1="58.20" x2="323.20" y2="58.20" stroke="#b4b4b4" stroke-width="0.45" />
<g filter="url(#bl1)">
<ellipse cx="314.4" cy="59.779999999999994" rx="3.04" ry="6.38" fill="#c4c4c4" opacity="0.5" transform="rotate(12 314.4 59.779999999999994)"/>
<ellipse cx="314.7" cy="57.8" rx="2.28" ry="5.06" fill="#666" opacity="0.8" transform="rotate(12 314.7 57.8)"/>
<ellipse cx="314.7" cy="57.8" rx="1.4249999999999998" ry="3.3000000000000003" fill="#111" opacity="1.0" transform="rotate(12 314.7 57.8)"/>
</g>
<text x="294.90" y="42.30" font-size="2.2" fill="#555" text-anchor="end" >10</text>
<line x1="296.20" y1="41.60" x2="322.90" y2="41.60" stroke="#e4e4e4" stroke-width="0.35" stroke-dasharray="0.6,0.8"/>
<text x="294.90" y="48.40" font-size="2.2" fill="#555" text-anchor="end" >10</text>
<line x1="296.20" y1="47.70" x2="322.90" y2="47.70" stroke="#e4e4e4" stroke-width="0.35" stroke-dasharray="0.6,0.8"/>
<text x="294.90" y="54.50" font-size="2.2" fill="#555" text-anchor="end" >10</text>
<line x1="296.20" y1="53.80" x2="322.90" y2="53.80" stroke="#e4e4e4" stroke-width="0.35" stroke-dasharray="0.6,0.8"/>
<text x="294.90" y="60.60" font-size="2.2" fill="#555" text-anchor="end" >10</text>
<line x1="296.20" y1="59.90" x2="322.90" y2="59.90" stroke="#e4e4e4" stroke-width="0.35" stroke-dasharray="0.6,0.8"/>
<text x="294.90" y="66.70" font-size="2.2" fill="#555" text-anchor="end" >10</text>
<line x1="296.20" y1="66.00" x2="322.90" y2="66.00" stroke="#e4e4e4" stroke-width="0.35" stroke-dasharray="0.6,0.8"/>
<text x="297.40" y="69.40" font-size="2.2" fill="#555" text-anchor="middle" >10</text>
<text x="303.47" y="69.40" font-size="2.2" fill="#555" text-anchor="middle" >10</text>
<text x="309.55" y="69.40" font-size="2.2" fill="#555" text-anchor="middle" >10</text>
<text x="315.62" y="69.40" font-size="2.2" fill="#555" text-anchor="middle" >10</text>
<text x="321.70" y="69.40" font-size="2.2" fill="#555" text-anchor="middle" >10</text>
<rect x="331.80" y="39.60" width="27.80" height="27.00" fill="#fff" stroke="#cfcfcf" stroke-width="0.5"/>
<line x1="343.50" y1="39.60" x2="343.50" y2="66.60" stroke="#b4b4b4" stroke-width="0.45" />
<line x1="331.80" y1="57.10" x2="359.60" y2="57.10" stroke="#b4b4b4" stroke-width="0.45" />
<g filter="url(#bl1)">
<ellipse cx="349.3" cy="56.0" rx="3.5200000000000005" ry="5.8" fill="#c4c4c4" opacity="0.5" transform="rotate(20 349.3 56.0)"/>
<ellipse cx="349.6" cy="54.2" rx="2.64" ry="4.6" fill="#666" opacity="0.8" transform="rotate(20 349.6 54.2)"/>
<ellipse cx="349.6" cy="54.2" rx="1.6500000000000001" ry="3.0" fill="#111" opacity="1.0" transform="rotate(20 349.6 54.2)"/>
<ellipse cx="342" cy="57.4" rx="6" ry="1.0" fill="#bbb" opacity="0.45" transform="rotate(0 342 57.4)"/>
</g>
<text x="330.80" y="42.30" font-size="2.2" fill="#555" text-anchor="end" >10</text>
<line x1="332.10" y1="41.60" x2="359.30" y2="41.60" stroke="#e4e4e4" stroke-width="0.35" stroke-dasharray="0.6,0.8"/>
<text x="330.80" y="48.30" font-size="2.2" fill="#555" text-anchor="end" >10</text>
<line x1="332.10" y1="47.60" x2="359.30" y2="47.60" stroke="#e4e4e4" stroke-width="0.35" stroke-dasharray="0.6,0.8"/>
<text x="330.80" y="54.30" font-size="2.2" fill="#555" text-anchor="end" >10</text>
<line x1="332.10" y1="53.60" x2="359.30" y2="53.60" stroke="#e4e4e4" stroke-width="0.35" stroke-dasharray="0.6,0.8"/>
<text x="330.80" y="60.30" font-size="2.2" fill="#555" text-anchor="end" >10</text>
<line x1="332.10" y1="59.60" x2="359.30" y2="59.60" stroke="#e4e4e4" stroke-width="0.35" stroke-dasharray="0.6,0.8"/>
<text x="330.80" y="66.30" font-size="2.2" fill="#555" text-anchor="end" >10</text>
<line x1="332.10" y1="65.60" x2="359.30" y2="65.60" stroke="#e4e4e4" stroke-width="0.35" stroke-dasharray="0.6,0.8"/>
<text x="333.30" y="69.00" font-size="2.2" fill="#555" text-anchor="middle" >10</text>
<text x="339.50" y="69.00" font-size="2.2" fill="#555" text-anchor="middle" >10</text>
<text x="345.70" y="69.00" font-size="2.2" fill="#555" text-anchor="middle" >10</text>
<text x="351.90" y="69.00" font-size="2.2" fill="#555" text-anchor="middle" >10</text>
<text x="358.10" y="69.00" font-size="2.2" fill="#555" text-anchor="middle" >10</text>
<rect x="368.20" y="39.60" width="27.30" height="27.00" fill="#fff" stroke="#cfcfcf" stroke-width="0.5"/>
<line x1="379.50" y1="39.60" x2="379.50" y2="66.60" stroke="#b4b4b4" stroke-width="0.45" />
<line x1="368.20" y1="57.10" x2="395.50" y2="57.10" stroke="#b4b4b4" stroke-width="0.45" />
<g filter="url(#bl1)">
<ellipse cx="384.7" cy="56.935" rx="3.04" ry="6.234999999999999" fill="#c4c4c4" opacity="0.5" transform="rotate(15 384.7 56.935)"/>
<ellipse cx="385.0" cy="55.0" rx="2.28" ry="4.944999999999999" fill="#666" opacity="0.8" transform="rotate(15 385.0 55.0)"/>
<ellipse cx="385.0" cy="55.0" rx="1.4249999999999998" ry="3.2249999999999996" fill="#111" opacity="1.0" transform="rotate(15 385.0 55.0)"/>
</g>
<text x="367.20" y="42.30" font-size="2.2" fill="#555" text-anchor="end" >10</text>
<line x1="368.50" y1="41.60" x2="395.20" y2="41.60" stroke="#e4e4e4" stroke-width="0.35" stroke-dasharray="0.6,0.8"/>
<text x="367.20" y="48.30" font-size="2.2" fill="#555" text-anchor="end" >10</text>
<line x1="368.50" y1="47.60" x2="395.20" y2="47.60" stroke="#e4e4e4" stroke-width="0.35" stroke-dasharray="0.6,0.8"/>
<text x="367.20" y="54.30" font-size="2.2" fill="#555" text-anchor="end" >10</text>
<line x1="368.50" y1="53.60" x2="395.20" y2="53.60" stroke="#e4e4e4" stroke-width="0.35" stroke-dasharray="0.6,0.8"/>
<text x="367.20" y="60.30" font-size="2.2" fill="#555" text-anchor="end" >10</text>
<line x1="368.50" y1="59.60" x2="395.20" y2="59.60" stroke="#e4e4e4" stroke-width="0.35" stroke-dasharray="0.6,0.8"/>
<text x="367.20" y="66.30" font-size="2.2" fill="#555" text-anchor="end" >10</text>
<line x1="368.50" y1="65.60" x2="395.20" y2="65.60" stroke="#e4e4e4" stroke-width="0.35" stroke-dasharray="0.6,0.8"/>
<text x="369.70" y="69.00" font-size="2.2" fill="#555" text-anchor="middle" >10</text>
<text x="375.77" y="69.00" font-size="2.2" fill="#555" text-anchor="middle" >10</text>
<text x="381.85" y="69.00" font-size="2.2" fill="#555" text-anchor="middle" >10</text>
<text x="387.93" y="69.00" font-size="2.2" fill="#555" text-anchor="middle" >10</text>
<text x="394.00" y="69.00" font-size="2.2" fill="#555" text-anchor="middle" >10</text>
<rect x="417.00" y="39.40" width="27.20" height="28.30" fill="#fff" stroke="#cfcfcf" stroke-width="0.5"/>
<line x1="428.60" y1="39.40" x2="428.60" y2="67.70" stroke="#b4b4b4" stroke-width="0.45" />
<line x1="417.00" y1="56.80" x2="444.20" y2="56.80" stroke="#b4b4b4" stroke-width="0.45" />
<g filter="url(#bl2)">
<ellipse cx="423.8" cy="50.0" rx="6.5" ry="2.6" fill="#aaa" opacity="0.35" transform="rotate(0 423.8 50.0)"/>
<ellipse cx="424.2" cy="49.7" rx="4.6" ry="1.5" fill="#666" opacity="0.6" transform="rotate(0 424.2 49.7)"/>
<ellipse cx="426.0" cy="49.5" rx="2.4" ry="1.1" fill="#222" opacity="0.7" transform="rotate(0 426.0 49.5)"/>
<ellipse cx="423" cy="59.5" rx="1.5" ry="4" fill="#ddd" opacity="0.25" transform="rotate(0 423 59.5)"/>
</g>
<text x="416.00" y="42.10" font-size="2.2" fill="#555" text-anchor="end" >10</text>
<line x1="417.30" y1="41.40" x2="443.90" y2="41.40" stroke="#e4e4e4" stroke-width="0.35" stroke-dasharray="0.6,0.8"/>
<text x="416.00" y="48.43" font-size="2.2" fill="#555" text-anchor="end" >10</text>
<line x1="417.30" y1="47.73" x2="443.90" y2="47.73" stroke="#e4e4e4" stroke-width="0.35" stroke-dasharray="0.6,0.8"/>
<text x="416.00" y="54.75" font-size="2.2" fill="#555" text-anchor="end" >10</text>
<line x1="417.30" y1="54.05" x2="443.90" y2="54.05" stroke="#e4e4e4" stroke-width="0.35" stroke-dasharray="0.6,0.8"/>
<text x="416.00" y="61.08" font-size="2.2" fill="#555" text-anchor="end" >10</text>
<line x1="417.30" y1="60.38" x2="443.90" y2="60.38" stroke="#e4e4e4" stroke-width="0.35" stroke-dasharray="0.6,0.8"/>
<text x="416.00" y="67.40" font-size="2.2" fill="#555" text-anchor="end" >10</text>
<line x1="417.30" y1="66.70" x2="443.90" y2="66.70" stroke="#e4e4e4" stroke-width="0.35" stroke-dasharray="0.6,0.8"/>
<text x="418.50" y="70.10" font-size="2.2" fill="#555" text-anchor="middle" >10</text>
<text x="424.55" y="70.10" font-size="2.2" fill="#555" text-anchor="middle" >10</text>
<text x="430.60" y="70.10" font-size="2.2" fill="#555" text-anchor="middle" >10</text>
<text x="436.65" y="70.10" font-size="2.2" fill="#555" text-anchor="middle" >10</text>
<text x="442.70" y="70.10" font-size="2.2" fill="#555" text-anchor="middle" >10</text>
<rect x="453.80" y="39.40" width="25.70" height="27.20" fill="#fff" stroke="#cfcfcf" stroke-width="0.5"/>
<line x1="464.70" y1="39.40" x2="464.70" y2="66.60" stroke="#b4b4b4" stroke-width="0.45" />
<line x1="453.80" y1="57.10" x2="479.50" y2="57.10" stroke="#b4b4b4" stroke-width="0.45" />
<g filter="url(#bl2)">
<ellipse cx="459.5" cy="53.0" rx="4.2" ry="5.0" fill="#aaa" opacity="0.4" transform="rotate(25 459.5 53.0)"/>
<ellipse cx="460.5" cy="51.5" rx="3.0" ry="2.8" fill="#555" opacity="0.55" transform="rotate(25 460.5 51.5)"/>
<ellipse cx="461.5" cy="50.6" rx="1.6" ry="1.5" fill="#333" opacity="0.6" transform="rotate(0 461.5 50.6)"/>
<ellipse cx="473.2" cy="57.6" rx="2.8" ry="1.6" fill="#aaa" opacity="0.4" transform="rotate(0 473.2 57.6)"/>
</g>
<text x="452.80" y="42.10" font-size="2.2" fill="#555" text-anchor="end" >10</text>
<line x1="454.10" y1="41.40" x2="479.20" y2="41.40" stroke="#e4e4e4" stroke-width="0.35" stroke-dasharray="0.6,0.8"/>
<text x="452.80" y="48.15" font-size="2.2" fill="#555" text-anchor="end" >10</text>
<line x1="454.10" y1="47.45" x2="479.20" y2="47.45" stroke="#e4e4e4" stroke-width="0.35" stroke-dasharray="0.6,0.8"/>
<text x="452.80" y="54.20" font-size="2.2" fill="#555" text-anchor="end" >10</text>
<line x1="454.10" y1="53.50" x2="479.20" y2="53.50" stroke="#e4e4e4" stroke-width="0.35" stroke-dasharray="0.6,0.8"/>
<text x="452.80" y="60.25" font-size="2.2" fill="#555" text-anchor="end" >10</text>
<line x1="454.10" y1="59.55" x2="479.20" y2="59.55" stroke="#e4e4e4" stroke-width="0.35" stroke-dasharray="0.6,0.8"/>
<text x="452.80" y="66.30" font-size="2.2" fill="#555" text-anchor="end" >10</text>
<line x1="454.10" y1="65.60" x2="479.20" y2="65.60" stroke="#e4e4e4" stroke-width="0.35" stroke-dasharray="0.6,0.8"/>
<text x="455.30" y="69.00" font-size="2.2" fill="#555" text-anchor="middle" >10</text>
<text x="460.98" y="69.00" font-size="2.2" fill="#555" text-anchor="middle" >10</text>
<text x="466.65" y="69.00" font-size="2.2" fill="#555" text-anchor="middle" >10</text>
<text x="472.32" y="69.00" font-size="2.2" fill="#555" text-anchor="middle" >10</text>
<text x="478.00" y="69.00" font-size="2.2" fill="#555" text-anchor="middle" >10</text>
<rect x="489.70" y="39.40" width="27.00" height="27.20" fill="#fff" stroke="#cfcfcf" stroke-width="0.5"/>
<line x1="500.80" y1="39.40" x2="500.80" y2="66.60" stroke="#b4b4b4" stroke-width="0.45" />
<line x1="489.70" y1="57.60" x2="516.70" y2="57.60" stroke="#b4b4b4" stroke-width="0.45" />
<g filter="url(#bl2)">
<ellipse cx="496.5" cy="55.3" rx="4.8" ry="4.2" fill="#aaa" opacity="0.4" transform="rotate(0 496.5 55.3)"/>
<ellipse cx="497.0" cy="54.8" rx="3.2" ry="2.6" fill="#555" opacity="0.6" transform="rotate(0 497.0 54.8)"/>
<ellipse cx="497.6" cy="54.3" rx="1.8" ry="1.5" fill="#333" opacity="0.6" transform="rotate(0 497.6 54.3)"/>
<ellipse cx="509" cy="59" rx="2.6" ry="2.4" fill="#bbb" opacity="0.4" transform="rotate(0 509 59)"/>
</g>
<text x="488.70" y="42.10" font-size="2.2" fill="#555" text-anchor="end" >10</text>
<line x1="490.00" y1="41.40" x2="516.40" y2="41.40" stroke="#e4e4e4" stroke-width="0.35" stroke-dasharray="0.6,0.8"/>
<text x="488.70" y="48.15" font-size="2.2" fill="#555" text-anchor="end" >10</text>
<line x1="490.00" y1="47.45" x2="516.40" y2="47.45" stroke="#e4e4e4" stroke-width="0.35" stroke-dasharray="0.6,0.8"/>
<text x="488.70" y="54.20" font-size="2.2" fill="#555" text-anchor="end" >10</text>
<line x1="490.00" y1="53.50" x2="516.40" y2="53.50" stroke="#e4e4e4" stroke-width="0.35" stroke-dasharray="0.6,0.8"/>
<text x="488.70" y="60.25" font-size="2.2" fill="#555" text-anchor="end" >10</text>
<line x1="490.00" y1="59.55" x2="516.40" y2="59.55" stroke="#e4e4e4" stroke-width="0.35" stroke-dasharray="0.6,0.8"/>
<text x="488.70" y="66.30" font-size="2.2" fill="#555" text-anchor="end" >10</text>
<line x1="490.00" y1="65.60" x2="516.40" y2="65.60" stroke="#e4e4e4" stroke-width="0.35" stroke-dasharray="0.6,0.8"/>
<text x="491.20" y="69.00" font-size="2.2" fill="#555" text-anchor="middle" >10</text>
<text x="497.20" y="69.00" font-size="2.2" fill="#555" text-anchor="middle" >10</text>
<text x="503.20" y="69.00" font-size="2.2" fill="#555" text-anchor="middle" >10</text>
<text x="509.20" y="69.00" font-size="2.2" fill="#555" text-anchor="middle" >10</text>
<text x="515.20" y="69.00" font-size="2.2" fill="#555" text-anchor="middle" >10</text>
<line x1="288.90" y1="39.20" x2="288.90" y2="73.80" stroke="#999" stroke-width="0.6" />
<line x1="288.90" y1="73.80" x2="323.50" y2="73.80" stroke="#999" stroke-width="0.6" />
<path d="M287.70,40.40 L288.90,38.20 L290.10,40.40" fill="none" stroke="#999" stroke-width="0.5"/>
<path d="M322.30,72.60 L324.50,73.80 L322.30,75.00" fill="none" stroke="#999" stroke-width="0.5"/>
<line x1="410.90" y1="38.40" x2="410.90" y2="72.70" stroke="#999" stroke-width="0.6" />
<line x1="410.90" y1="72.70" x2="445.50" y2="72.70" stroke="#999" stroke-width="0.6" />
<path d="M409.70,39.60 L410.90,37.40 L412.10,39.60" fill="none" stroke="#999" stroke-width="0.5"/>
<path d="M444.30,71.50 L446.50,72.70 L444.30,73.90" fill="none" stroke="#999" stroke-width="0.5"/>
<text x="0" y="0" font-size="5.2" font-weight="bold" stroke="#000" stroke-width="0.12" text-anchor="middle" transform="translate(284.6,54) rotate(-90)">CD19</text>
<text x="0" y="0" font-size="5.2" font-weight="bold" stroke="#000" stroke-width="0.12" text-anchor="middle" transform="translate(408.4,52.6) rotate(-90)">CD19</text>
<text x="306.20" y="79.00" font-size="5.2" font-weight="bold" fill="#000" stroke="#000" stroke-width="0.12" text-anchor="middle" >CD5</text>
<text x="428.50" y="78.30" font-size="5.2" font-weight="bold" fill="#000" stroke="#000" stroke-width="0.12" text-anchor="middle" >CD5</text>
<text x="308.70" y="33.10" font-size="5.8" font-weight="bold" fill="#000" stroke="#000" stroke-width="0.12" text-anchor="middle" >MCL_1</text>
<text x="346.40" y="33.10" font-size="5.8" font-weight="bold" fill="#000" stroke="#000" stroke-width="0.12" text-anchor="middle" >MCL_2</text>
<text x="382.20" y="33.10" font-size="5.8" font-weight="bold" fill="#000" stroke="#000" stroke-width="0.12" text-anchor="middle" >MCL_3</text>
<text x="431.40" y="33.10" font-size="5.8" font-weight="bold" fill="#000" stroke="#000" stroke-width="0.12" text-anchor="middle" >MCL_4</text>
<text x="467.80" y="33.10" font-size="5.8" font-weight="bold" fill="#000" stroke="#000" stroke-width="0.12" text-anchor="middle" >MCL_5</text>
<text x="503.50" y="33.10" font-size="5.8" font-weight="bold" fill="#000" stroke="#000" stroke-width="0.12" text-anchor="middle" >MCL_6</text>
<rect x="295.90" y="86.80" width="27.90" height="27.30" fill="#fff" stroke="#cfcfcf" stroke-width="0.5"/>
<line x1="307.20" y1="86.80" x2="307.20" y2="114.10" stroke="#bbb" stroke-width="0.5" />
<path d="M306.00,113.70 L311.00,113.60 L312.96,111.58 L314.47,105.25 L315.76,94.62 L316.60,88.30 L317.10,94.62 L317.85,105.25 L318.75,111.58 L319.90,113.60" fill="none" stroke="#444" stroke-width="0.6" stroke-linejoin="round"/>
<path d="M311.50,113.60 L313.18,111.79 L314.48,106.14 L315.58,96.65 L316.30,91.00 L316.88,96.65 L317.78,106.14 L318.83,111.79 L320.20,113.60" fill="none" stroke="#999" stroke-width="0.5" stroke-linejoin="round"/>
<text x="297.00" y="91.90" font-size="5.2" fill="#1a1a1a" stroke="#1a1a1a" stroke-width="0.1" text-anchor="start" >99.8</text>
<text x="294.90" y="89.50" font-size="2.2" fill="#555" text-anchor="end" >10</text>
<line x1="296.20" y1="88.80" x2="323.50" y2="88.80" stroke="#e4e4e4" stroke-width="0.35" stroke-dasharray="0.6,0.8"/>
<text x="294.90" y="93.55" font-size="2.2" fill="#555" text-anchor="end" >10</text>
<line x1="296.20" y1="92.85" x2="323.50" y2="92.85" stroke="#e4e4e4" stroke-width="0.35" stroke-dasharray="0.6,0.8"/>
<text x="294.90" y="97.60" font-size="2.2" fill="#555" text-anchor="end" >10</text>
<line x1="296.20" y1="96.90" x2="323.50" y2="96.90" stroke="#e4e4e4" stroke-width="0.35" stroke-dasharray="0.6,0.8"/>
<text x="294.90" y="101.65" font-size="2.2" fill="#555" text-anchor="end" >10</text>
<line x1="296.20" y1="100.95" x2="323.50" y2="100.95" stroke="#e4e4e4" stroke-width="0.35" stroke-dasharray="0.6,0.8"/>
<text x="294.90" y="105.70" font-size="2.2" fill="#555" text-anchor="end" >10</text>
<line x1="296.20" y1="105.00" x2="323.50" y2="105.00" stroke="#e4e4e4" stroke-width="0.35" stroke-dasharray="0.6,0.8"/>
<text x="294.90" y="109.75" font-size="2.2" fill="#555" text-anchor="end" >10</text>
<line x1="296.20" y1="109.05" x2="323.50" y2="109.05" stroke="#e4e4e4" stroke-width="0.35" stroke-dasharray="0.6,0.8"/>
<text x="294.90" y="113.80" font-size="2.2" fill="#555" text-anchor="end" >10</text>
<line x1="296.20" y1="113.10" x2="323.50" y2="113.10" stroke="#e4e4e4" stroke-width="0.35" stroke-dasharray="0.6,0.8"/>
<text x="297.40" y="116.50" font-size="2.2" fill="#555" text-anchor="middle" >10</text>
<text x="303.62" y="116.50" font-size="2.2" fill="#555" text-anchor="middle" >10</text>
<text x="309.85" y="116.50" font-size="2.2" fill="#555" text-anchor="middle" >10</text>
<text x="316.07" y="116.50" font-size="2.2" fill="#555" text-anchor="middle" >10</text>
<text x="322.30" y="116.50" font-size="2.2" fill="#555" text-anchor="middle" >10</text>
<rect x="330.80" y="86.50" width="28.80" height="28.10" fill="#fff" stroke="#cfcfcf" stroke-width="0.5"/>
<line x1="343.00" y1="86.50" x2="343.00" y2="114.60" stroke="#bbb" stroke-width="0.5" />
<path d="M333.00,113.70 L347.60,113.60 L348.69,111.58 L349.52,105.25 L350.24,94.62 L350.70,88.30 L351.09,94.62 L351.69,105.25 L352.39,111.58 L353.30,113.60" fill="none" stroke="#444" stroke-width="0.6" stroke-linejoin="round"/>
<path d="M347.30,113.60 L348.38,111.79 L349.22,106.14 L349.94,96.65 L350.40,91.00 L350.88,96.65 L351.62,106.14 L352.48,111.79 L353.60,113.60" fill="none" stroke="#999" stroke-width="0.5" stroke-linejoin="round"/>
<text x="331.50" y="92.30" font-size="5.2" fill="#1a1a1a" stroke="#1a1a1a" stroke-width="0.1" text-anchor="start" >96.6</text>
<text x="329.80" y="89.20" font-size="2.2" fill="#555" text-anchor="end" >10</text>
<line x1="331.10" y1="88.50" x2="359.30" y2="88.50" stroke="#e4e4e4" stroke-width="0.35" stroke-dasharray="0.6,0.8"/>
<text x="329.80" y="93.38" font-size="2.2" fill="#555" text-anchor="end" >10</text>
<line x1="331.10" y1="92.68" x2="359.30" y2="92.68" stroke="#e4e4e4" stroke-width="0.35" stroke-dasharray="0.6,0.8"/>
<text x="329.80" y="97.57" font-size="2.2" fill="#555" text-anchor="end" >10</text>
<line x1="331.10" y1="96.87" x2="359.30" y2="96.87" stroke="#e4e4e4" stroke-width="0.35" stroke-dasharray="0.6,0.8"/>
<text x="329.80" y="101.75" font-size="2.2" fill="#555" text-anchor="end" >10</text>
<line x1="331.10" y1="101.05" x2="359.30" y2="101.05" stroke="#e4e4e4" stroke-width="0.35" stroke-dasharray="0.6,0.8"/>
<text x="329.80" y="105.93" font-size="2.2" fill="#555" text-anchor="end" >10</text>
<line x1="331.10" y1="105.23" x2="359.30" y2="105.23" stroke="#e4e4e4" stroke-width="0.35" stroke-dasharray="0.6,0.8"/>
<text x="329.80" y="110.12" font-size="2.2" fill="#555" text-anchor="end" >10</text>
<line x1="331.10" y1="109.42" x2="359.30" y2="109.42" stroke="#e4e4e4" stroke-width="0.35" stroke-dasharray="0.6,0.8"/>
<text x="329.80" y="114.30" font-size="2.2" fill="#555" text-anchor="end" >10</text>
<line x1="331.10" y1="113.60" x2="359.30" y2="113.60" stroke="#e4e4e4" stroke-width="0.35" stroke-dasharray="0.6,0.8"/>
<text x="332.30" y="117.00" font-size="2.2" fill="#555" text-anchor="middle" >10</text>
<text x="338.75" y="117.00" font-size="2.2" fill="#555" text-anchor="middle" >10</text>
<text x="345.20" y="117.00" font-size="2.2" fill="#555" text-anchor="middle" >10</text>
<text x="351.65" y="117.00" font-size="2.2" fill="#555" text-anchor="middle" >10</text>
<text x="358.10" y="117.00" font-size="2.2" fill="#555" text-anchor="middle" >10</text>
<rect x="366.10" y="86.50" width="29.60" height="28.10" fill="#fff" stroke="#cfcfcf" stroke-width="0.5"/>
<line x1="379.80" y1="86.50" x2="379.80" y2="114.60" stroke="#bbb" stroke-width="0.5" />
<path d="M380.00,113.70 L384.70,113.60 L385.61,111.52 L386.31,105.02 L386.91,94.10 L387.30,87.60 L387.70,94.10 L388.33,105.02 L389.06,111.52 L390.00,113.60" fill="none" stroke="#444" stroke-width="0.6" stroke-linejoin="round"/>
<path d="M384.40,113.60 L385.31,111.79 L386.01,106.14 L386.61,96.65 L387.00,91.00 L387.51,96.65 L388.29,106.14 L389.21,111.79 L390.40,113.60" fill="none" stroke="#999" stroke-width="0.5" stroke-linejoin="round"/>
<text x="369.70" y="92.30" font-size="5.2" fill="#1a1a1a" stroke="#1a1a1a" stroke-width="0.1" text-anchor="start" >99.9</text>
<text x="365.10" y="89.20" font-size="2.2" fill="#555" text-anchor="end" >10</text>
<line x1="366.40" y1="88.50" x2="395.40" y2="88.50" stroke="#e4e4e4" stroke-width="0.35" stroke-dasharray="0.6,0.8"/>
<text x="365.10" y="93.38" font-size="2.2" fill="#555" text-anchor="end" >10</text>
<line x1="366.40" y1="92.68" x2="395.40" y2="92.68" stroke="#e4e4e4" stroke-width="0.35" stroke-dasharray="0.6,0.8"/>
<text x="365.10" y="97.57" font-size="2.2" fill="#555" text-anchor="end" >10</text>
<line x1="366.40" y1="96.87" x2="395.40" y2="96.87" stroke="#e4e4e4" stroke-width="0.35" stroke-dasharray="0.6,0.8"/>
<text x="365.10" y="101.75" font-size="2.2" fill="#555" text-anchor="end" >10</text>
<line x1="366.40" y1="101.05" x2="395.40" y2="101.05" stroke="#e4e4e4" stroke-width="0.35" stroke-dasharray="0.6,0.8"/>
<text x="365.10" y="105.93" font-size="2.2" fill="#555" text-anchor="end" >10</text>
<line x1="366.40" y1="105.23" x2="395.40" y2="105.23" stroke="#e4e4e4" stroke-width="0.35" stroke-dasharray="0.6,0.8"/>
<text x="365.10" y="110.12" font-size="2.2" fill="#555" text-anchor="end" >10</text>
<line x1="366.40" y1="109.42" x2="395.40" y2="109.42" stroke="#e4e4e4" stroke-width="0.35" stroke-dasharray="0.6,0.8"/>
<text x="365.10" y="114.30" font-size="2.2" fill="#555" text-anchor="end" >10</text>
<line x1="366.40" y1="113.60" x2="395.40" y2="113.60" stroke="#e4e4e4" stroke-width="0.35" stroke-dasharray="0.6,0.8"/>
<text x="367.60" y="117.00" font-size="2.2" fill="#555" text-anchor="middle" >10</text>
<text x="374.25" y="117.00" font-size="2.2" fill="#555" text-anchor="middle" >10</text>
<text x="380.90" y="117.00" font-size="2.2" fill="#555" text-anchor="middle" >10</text>
<text x="387.55" y="117.00" font-size="2.2" fill="#555" text-anchor="middle" >10</text>
<text x="394.20" y="117.00" font-size="2.2" fill="#555" text-anchor="middle" >10</text>
<rect x="414.40" y="86.80" width="30.30" height="27.20" fill="#fff" stroke="#cfcfcf" stroke-width="0.5"/>
<line x1="429.00" y1="86.80" x2="429.00" y2="114.00" stroke="#bbb" stroke-width="0.5" />
<path d="M416.00,113.10 L419.30,111.90 L421.70,109.00 L423.70,105.00 L425.30,101.40 L426.50,98.50 L427.30,95.30 L428.20,93.30 L429.00,94.50 L429.80,91.70 L430.70,88.80 L431.80,91.30 L432.80,95.30 L433.60,100.20 L434.60,105.00 L435.80,109.80 L437.00,112.30 L439.50,113.50 Z" fill="#9a9a9a" opacity="0.45"/>
<path d="M416.00,113.10 L419.30,111.90 L421.70,109.00 L423.70,105.00 L425.30,101.40 L426.50,98.50 L427.30,95.30 L428.20,93.30 L429.00,94.50 L429.80,91.70 L430.70,88.80 L431.80,91.30 L432.80,95.30 L433.60,100.20 L434.60,105.00 L435.80,109.80 L437.00,112.30 L439.50,113.50" fill="none" stroke="#222" stroke-width="0.75" stroke-linejoin="round"/>
<path d="M417.00,113.20 L420.50,111.50 L423.00,108.00 L425.00,104.00 L426.60,100.50 L427.80,97.00 L428.80,95.00 L429.60,93.50 L430.30,90.50 L431.00,92.00" fill="none" stroke="#333" stroke-width="0.7" stroke-linejoin="round"/>
<path d="M418.00,113.30 L421.50,111.60 L424.00,108.50 L426.00,105.00 L427.60,101.50 L428.60,99.00 L429.40,97.50" fill="none" stroke="#555" stroke-width="0.6" stroke-linejoin="round"/>
<path d="M430.50,91.50 L431.30,93.50 L432.00,96.50 L433.00,101.00 L434.00,105.50 L435.00,109.50 L436.50,112.60 L438.50,113.40" fill="none" stroke="#444" stroke-width="0.6" stroke-linejoin="round"/>
<path d="M429.60,95.50 L430.60,96.00 L431.40,99.00 L432.40,103.00 L433.40,107.50 L434.60,111.00 L436.00,113.00" fill="none" stroke="#777" stroke-width="0.5" stroke-linejoin="round"/>
<text x="417.00" y="91.90" font-size="5.2" fill="#1a1a1a" stroke="#1a1a1a" stroke-width="0.1" text-anchor="start" >50.9</text>
<text x="413.40" y="89.50" font-size="2.2" fill="#555" text-anchor="end" >10</text>
<line x1="414.70" y1="88.80" x2="444.40" y2="88.80" stroke="#e4e4e4" stroke-width="0.35" stroke-dasharray="0.6,0.8"/>
<text x="413.40" y="93.53" font-size="2.2" fill="#555" text-anchor="end" >10</text>
<line x1="414.70" y1="92.83" x2="444.40" y2="92.83" stroke="#e4e4e4" stroke-width="0.35" stroke-dasharray="0.6,0.8"/>
<text x="413.40" y="97.57" font-size="2.2" fill="#555" text-anchor="end" >10</text>
<line x1="414.70" y1="96.87" x2="444.40" y2="96.87" stroke="#e4e4e4" stroke-width="0.35" stroke-dasharray="0.6,0.8"/>
<text x="413.40" y="101.60" font-size="2.2" fill="#555" text-anchor="end" >10</text>
<line x1="414.70" y1="100.90" x2="444.40" y2="100.90" stroke="#e4e4e4" stroke-width="0.35" stroke-dasharray="0.6,0.8"/>
<text x="413.40" y="105.63" font-size="2.2" fill="#555" text-anchor="end" >10</text>
<line x1="414.70" y1="104.93" x2="444.40" y2="104.93" stroke="#e4e4e4" stroke-width="0.35" stroke-dasharray="0.6,0.8"/>
<text x="413.40" y="109.67" font-size="2.2" fill="#555" text-anchor="end" >10</text>
<line x1="414.70" y1="108.97" x2="444.40" y2="108.97" stroke="#e4e4e4" stroke-width="0.35" stroke-dasharray="0.6,0.8"/>
<text x="413.40" y="113.70" font-size="2.2" fill="#555" text-anchor="end" >10</text>
<line x1="414.70" y1="113.00" x2="444.40" y2="113.00" stroke="#e4e4e4" stroke-width="0.35" stroke-dasharray="0.6,0.8"/>
<text x="415.90" y="116.40" font-size="2.2" fill="#555" text-anchor="middle" >10</text>
<text x="422.72" y="116.40" font-size="2.2" fill="#555" text-anchor="middle" >10</text>
<text x="429.55" y="116.40" font-size="2.2" fill="#555" text-anchor="middle" >10</text>
<text x="436.38" y="116.40" font-size="2.2" fill="#555" text-anchor="middle" >10</text>
<text x="443.20" y="116.40" font-size="2.2" fill="#555" text-anchor="middle" >10</text>
<rect x="455.10" y="86.70" width="27.20" height="26.60" fill="#fff" stroke="#cfcfcf" stroke-width="0.5"/>
<line x1="467.20" y1="86.70" x2="467.20" y2="113.30" stroke="#bbb" stroke-width="0.5" />
<path d="M455.20,113.10 L458.50,112.30 L460.90,111.10 L463.30,108.20 L464.90,105.00 L466.50,101.00 L467.80,96.10 L469.00,91.30 L469.60,88.40 L470.20,90.50 L471.00,95.30 L471.80,101.80 L472.80,107.40 L473.80,111.50 L475.40,113.10 Z" fill="#9a9a9a" opacity="0.12"/>
<path d="M455.20,113.10 L458.50,112.30 L460.90,111.10 L463.30,108.20 L464.90,105.00 L466.50,101.00 L467.80,96.10 L469.00,91.30 L469.60,88.40 L470.20,90.50 L471.00,95.30 L471.80,101.80 L472.80,107.40 L473.80,111.50 L475.40,113.10" fill="none" stroke="#222" stroke-width="0.7" stroke-linejoin="round"/>
<path d="M456.10,113.10 L459.40,112.32 L461.80,111.16 L464.20,108.35 L465.80,105.24 L467.40,101.36 L468.70,96.61 L469.90,91.95 L470.50,89.14" fill="none" stroke="#333" stroke-width="0.7" stroke-linejoin="round"/>
<path d="M456.80,113.10 L460.10,112.36 L462.50,111.24 L464.90,108.54 L466.50,105.57 L468.10,101.85 L469.40,97.29 L470.60,92.83 L471.20,90.13" fill="none" stroke="#666" stroke-width="0.6" stroke-linejoin="round"/>
<path d="M454.70,113.10 L458.00,112.34 L460.40,111.20 L462.80,108.45 L464.40,105.41 L466.00,101.61 L467.30,96.95 L468.50,92.39 L469.10,89.64 L469.70,91.63 L470.50,96.19 L471.30,102.36 L472.30,107.69 L473.30,111.58 L474.90,113.10" fill="none" stroke="#888" stroke-width="0.5" stroke-linejoin="round"/>
<text x="456.00" y="92.10" font-size="5.2" fill="#1a1a1a" stroke="#1a1a1a" stroke-width="0.1" text-anchor="start" >65.3</text>
<text x="454.10" y="89.40" font-size="2.2" fill="#555" text-anchor="end" >10</text>
<line x1="455.40" y1="88.70" x2="482.00" y2="88.70" stroke="#e4e4e4" stroke-width="0.35" stroke-dasharray="0.6,0.8"/>
<text x="454.10" y="93.33" font-size="2.2" fill="#555" text-anchor="end" >10</text>
<line x1="455.40" y1="92.63" x2="482.00" y2="92.63" stroke="#e4e4e4" stroke-width="0.35" stroke-dasharray="0.6,0.8"/>
<text x="454.10" y="97.27" font-size="2.2" fill="#555" text-anchor="end" >10</text>
<line x1="455.40" y1="96.57" x2="482.00" y2="96.57" stroke="#e4e4e4" stroke-width="0.35" stroke-dasharray="0.6,0.8"/>
<text x="454.10" y="101.20" font-size="2.2" fill="#555" text-anchor="end" >10</text>
<line x1="455.40" y1="100.50" x2="482.00" y2="100.50" stroke="#e4e4e4" stroke-width="0.35" stroke-dasharray="0.6,0.8"/>
<text x="454.10" y="105.13" font-size="2.2" fill="#555" text-anchor="end" >10</text>
<line x1="455.40" y1="104.43" x2="482.00" y2="104.43" stroke="#e4e4e4" stroke-width="0.35" stroke-dasharray="0.6,0.8"/>
<text x="454.10" y="109.07" font-size="2.2" fill="#555" text-anchor="end" >10</text>
<line x1="455.40" y1="108.37" x2="482.00" y2="108.37" stroke="#e4e4e4" stroke-width="0.35" stroke-dasharray="0.6,0.8"/>
<text x="454.10" y="113.00" font-size="2.2" fill="#555" text-anchor="end" >10</text>
<line x1="455.40" y1="112.30" x2="482.00" y2="112.30" stroke="#e4e4e4" stroke-width="0.35" stroke-dasharray="0.6,0.8"/>
<text x="456.60" y="115.70" font-size="2.2" fill="#555" text-anchor="middle" >10</text>
<text x="462.65" y="115.70" font-size="2.2" fill="#555" text-anchor="middle" >10</text>
<text x="468.70" y="115.70" font-size="2.2" fill="#555" text-anchor="middle" >10</text>
<text x="474.75" y="115.70" font-size="2.2" fill="#555" text-anchor="middle" >10</text>
<text x="480.80" y="115.70" font-size="2.2" fill="#555" text-anchor="middle" >10</text>
<rect x="490.10" y="86.30" width="27.90" height="27.00" fill="#fff" stroke="#cfcfcf" stroke-width="0.5"/>
<line x1="501.80" y1="86.30" x2="501.80" y2="113.30" stroke="#bbb" stroke-width="0.5" />
<path d="M490.40,113.10 L494.10,112.30 L496.50,111.10 L498.50,108.20 L500.10,104.20 L501.30,99.30 L502.20,95.30 L502.80,92.50 L503.40,91.70 L504.20,92.90 L505.00,96.10 L506.00,101.80 L507.20,107.40 L508.50,111.50 L510.20,113.10 Z" fill="#9a9a9a" opacity="0.12"/>
<path d="M490.40,113.10 L494.10,112.30 L496.50,111.10 L498.50,108.20 L500.10,104.20 L501.30,99.30 L502.20,95.30 L502.80,92.50 L503.40,91.70 L504.20,92.90 L505.00,96.10 L506.00,101.80 L507.20,107.40 L508.50,111.50 L510.20,113.10" fill="none" stroke="#222" stroke-width="0.7" stroke-linejoin="round"/>
<path d="M491.30,113.10 L495.00,112.32 L497.40,111.16 L499.40,108.35 L501.00,104.47 L502.20,99.71 L503.10,95.83 L503.70,93.12 L504.30,92.34" fill="none" stroke="#333" stroke-width="0.7" stroke-linejoin="round"/>
<path d="M492.00,113.10 L495.70,112.36 L498.10,111.24 L500.10,108.54 L501.70,104.82 L502.90,100.27 L503.80,96.55 L504.40,93.94 L505.00,93.20" fill="none" stroke="#666" stroke-width="0.6" stroke-linejoin="round"/>
<path d="M489.90,113.10 L493.60,112.34 L496.00,111.20 L498.00,108.45 L499.60,104.65 L500.80,99.99 L501.70,96.19 L502.30,93.53 L502.90,92.77 L503.70,93.91 L504.50,96.95 L505.50,102.36 L506.70,107.69 L508.00,111.58 L509.70,113.10" fill="none" stroke="#888" stroke-width="0.5" stroke-linejoin="round"/>
<text x="491.00" y="92.10" font-size="5.2" fill="#1a1a1a" stroke="#1a1a1a" stroke-width="0.1" text-anchor="start" >54.6</text>
<text x="489.10" y="89.00" font-size="2.2" fill="#555" text-anchor="end" >10</text>
<line x1="490.40" y1="88.30" x2="517.70" y2="88.30" stroke="#e4e4e4" stroke-width="0.35" stroke-dasharray="0.6,0.8"/>
<text x="489.10" y="93.00" font-size="2.2" fill="#555" text-anchor="end" >10</text>
<line x1="490.40" y1="92.30" x2="517.70" y2="92.30" stroke="#e4e4e4" stroke-width="0.35" stroke-dasharray="0.6,0.8"/>
<text x="489.10" y="97.00" font-size="2.2" fill="#555" text-anchor="end" >10</text>
<line x1="490.40" y1="96.30" x2="517.70" y2="96.30" stroke="#e4e4e4" stroke-width="0.35" stroke-dasharray="0.6,0.8"/>
<text x="489.10" y="101.00" font-size="2.2" fill="#555" text-anchor="end" >10</text>
<line x1="490.40" y1="100.30" x2="517.70" y2="100.30" stroke="#e4e4e4" stroke-width="0.35" stroke-dasharray="0.6,0.8"/>
<text x="489.10" y="105.00" font-size="2.2" fill="#555" text-anchor="end" >10</text>
<line x1="490.40" y1="104.30" x2="517.70" y2="104.30" stroke="#e4e4e4" stroke-width="0.35" stroke-dasharray="0.6,0.8"/>
<text x="489.10" y="109.00" font-size="2.2" fill="#555" text-anchor="end" >10</text>
<line x1="490.40" y1="108.30" x2="517.70" y2="108.30" stroke="#e4e4e4" stroke-width="0.35" stroke-dasharray="0.6,0.8"/>
<text x="489.10" y="113.00" font-size="2.2" fill="#555" text-anchor="end" >10</text>
<line x1="490.40" y1="112.30" x2="517.70" y2="112.30" stroke="#e4e4e4" stroke-width="0.35" stroke-dasharray="0.6,0.8"/>
<text x="491.60" y="115.70" font-size="2.2" fill="#555" text-anchor="middle" >10</text>
<text x="497.83" y="115.70" font-size="2.2" fill="#555" text-anchor="middle" >10</text>
<text x="504.05" y="115.70" font-size="2.2" fill="#555" text-anchor="middle" >10</text>
<text x="510.27" y="115.70" font-size="2.2" fill="#555" text-anchor="middle" >10</text>
<text x="516.50" y="115.70" font-size="2.2" fill="#555" text-anchor="middle" >10</text>
<line x1="289.40" y1="85.20" x2="289.40" y2="119.70" stroke="#999" stroke-width="0.6" />
<line x1="289.40" y1="119.70" x2="323.70" y2="119.70" stroke="#999" stroke-width="0.6" />
<path d="M288.20,86.40 L289.40,84.20 L290.60,86.40" fill="none" stroke="#999" stroke-width="0.5"/>
<path d="M322.50,118.50 L324.70,119.70 L322.50,120.90" fill="none" stroke="#999" stroke-width="0.5"/>
<line x1="411.30" y1="84.70" x2="411.30" y2="119.00" stroke="#999" stroke-width="0.6" />
<line x1="411.30" y1="119.00" x2="445.60" y2="119.00" stroke="#999" stroke-width="0.6" />
<path d="M410.10,85.90 L411.30,83.70 L412.50,85.90" fill="none" stroke="#999" stroke-width="0.5"/>
<path d="M444.40,117.80 L446.60,119.00 L444.40,120.20" fill="none" stroke="#999" stroke-width="0.5"/>
<text x="0" y="0" font-size="5.4" font-weight="bold" stroke="#000" stroke-width="0.12" text-anchor="middle" transform="translate(285.7,100.8) rotate(-90)">count</text>
<text x="0" y="0" font-size="5.4" font-weight="bold" stroke="#000" stroke-width="0.12" text-anchor="middle" transform="translate(408.3,99.2) rotate(-90)">count</text>
<text x="308.20" y="125.00" font-size="5.2" font-weight="bold" fill="#000" stroke="#000" stroke-width="0.12" text-anchor="middle" >CD24</text>
<text x="430.20" y="124.10" font-size="5.2" font-weight="bold" fill="#000" stroke="#000" stroke-width="0.12" text-anchor="middle" >CD24</text>
<rect x="295.90" y="134.40" width="27.30" height="27.70" fill="#fff" stroke="#cfcfcf" stroke-width="0.5"/>
<line x1="311.00" y1="134.40" x2="311.00" y2="162.10" stroke="#bbb" stroke-width="0.5" />
<path d="M307.00,161.30 L307.88,159.30 L308.55,153.05 L309.12,142.55 L309.50,136.30 L309.78,142.55 L310.22,153.05 L310.74,159.30 L311.40,161.30" fill="none" stroke="#444" stroke-width="0.6" stroke-linejoin="round"/>
<path d="M306.80,161.30 L307.64,159.52 L308.29,153.94 L308.84,144.57 L309.20,139.00 L309.56,144.57 L310.11,153.94 L310.76,159.52 L311.60,161.30" fill="none" stroke="#999" stroke-width="0.5" stroke-linejoin="round"/>
<text x="311.50" y="139.70" font-size="5.2" fill="#1a1a1a" stroke="#1a1a1a" stroke-width="0.1" text-anchor="start" >91.2</text>
<text x="294.90" y="137.10" font-size="2.2" fill="#555" text-anchor="end" >10</text>
<line x1="296.20" y1="136.40" x2="322.90" y2="136.40" stroke="#e4e4e4" stroke-width="0.35" stroke-dasharray="0.6,0.8"/>
<text x="294.90" y="141.22" font-size="2.2" fill="#555" text-anchor="end" >10</text>
<line x1="296.20" y1="140.52" x2="322.90" y2="140.52" stroke="#e4e4e4" stroke-width="0.35" stroke-dasharray="0.6,0.8"/>
<text x="294.90" y="145.33" font-size="2.2" fill="#555" text-anchor="end" >10</text>
<line x1="296.20" y1="144.63" x2="322.90" y2="144.63" stroke="#e4e4e4" stroke-width="0.35" stroke-dasharray="0.6,0.8"/>
<text x="294.90" y="149.45" font-size="2.2" fill="#555" text-anchor="end" >10</text>
<line x1="296.20" y1="148.75" x2="322.90" y2="148.75" stroke="#e4e4e4" stroke-width="0.35" stroke-dasharray="0.6,0.8"/>
<text x="294.90" y="153.57" font-size="2.2" fill="#555" text-anchor="end" >10</text>
<line x1="296.20" y1="152.87" x2="322.90" y2="152.87" stroke="#e4e4e4" stroke-width="0.35" stroke-dasharray="0.6,0.8"/>
<text x="294.90" y="157.68" font-size="2.2" fill="#555" text-anchor="end" >10</text>
<line x1="296.20" y1="156.98" x2="322.90" y2="156.98" stroke="#e4e4e4" stroke-width="0.35" stroke-dasharray="0.6,0.8"/>
<text x="294.90" y="161.80" font-size="2.2" fill="#555" text-anchor="end" >10</text>
<line x1="296.20" y1="161.10" x2="322.90" y2="161.10" stroke="#e4e4e4" stroke-width="0.35" stroke-dasharray="0.6,0.8"/>
<text x="297.40" y="164.50" font-size="2.2" fill="#555" text-anchor="middle" >10</text>
<text x="303.47" y="164.50" font-size="2.2" fill="#555" text-anchor="middle" >10</text>
<text x="309.55" y="164.50" font-size="2.2" fill="#555" text-anchor="middle" >10</text>
<text x="315.62" y="164.50" font-size="2.2" fill="#555" text-anchor="middle" >10</text>
<text x="321.70" y="164.50" font-size="2.2" fill="#555" text-anchor="middle" >10</text>
<rect x="330.80" y="134.40" width="28.80" height="27.80" fill="#fff" stroke="#cfcfcf" stroke-width="0.5"/>
<line x1="347.30" y1="134.40" x2="347.30" y2="162.20" stroke="#bbb" stroke-width="0.5" />
<path d="M331.20,161.40 L341.00,161.10 L342.30,160.20 L343.30,158.30 L344.40,153.30 L345.20,155.00 L346.20,145.80 L347.10,136.60 L347.90,145.80 L348.50,161.10 L349.50,161.40" fill="none" stroke="#444" stroke-width="0.8" stroke-linejoin="round"/>
<path d="M340.00,161.20 L342.60,159.50 L343.80,155.00 L344.60,152.50 L345.60,152.00 L346.60,141.00 L347.40,139.00 L348.20,152.00 L348.80,161.20" fill="none" stroke="#999" stroke-width="0.5" stroke-linejoin="round"/>
<text x="349.80" y="140.10" font-size="5.2" fill="#1a1a1a" stroke="#1a1a1a" stroke-width="0.1" text-anchor="start" >91.1</text>
<text x="329.80" y="137.10" font-size="2.2" fill="#555" text-anchor="end" >10</text>
<line x1="331.10" y1="136.40" x2="359.30" y2="136.40" stroke="#e4e4e4" stroke-width="0.35" stroke-dasharray="0.6,0.8"/>
<text x="329.80" y="141.23" font-size="2.2" fill="#555" text-anchor="end" >10</text>
<line x1="331.10" y1="140.53" x2="359.30" y2="140.53" stroke="#e4e4e4" stroke-width="0.35" stroke-dasharray="0.6,0.8"/>
<text x="329.80" y="145.37" font-size="2.2" fill="#555" text-anchor="end" >10</text>
<line x1="331.10" y1="144.67" x2="359.30" y2="144.67" stroke="#e4e4e4" stroke-width="0.35" stroke-dasharray="0.6,0.8"/>
<text x="329.80" y="149.50" font-size="2.2" fill="#555" text-anchor="end" >10</text>
<line x1="331.10" y1="148.80" x2="359.30" y2="148.80" stroke="#e4e4e4" stroke-width="0.35" stroke-dasharray="0.6,0.8"/>
<text x="329.80" y="153.63" font-size="2.2" fill="#555" text-anchor="end" >10</text>
<line x1="331.10" y1="152.93" x2="359.30" y2="152.93" stroke="#e4e4e4" stroke-width="0.35" stroke-dasharray="0.6,0.8"/>
<text x="329.80" y="157.77" font-size="2.2" fill="#555" text-anchor="end" >10</text>
<line x1="331.10" y1="157.07" x2="359.30" y2="157.07" stroke="#e4e4e4" stroke-width="0.35" stroke-dasharray="0.6,0.8"/>
<text x="329.80" y="161.90" font-size="2.2" fill="#555" text-anchor="end" >10</text>
<line x1="331.10" y1="161.20" x2="359.30" y2="161.20" stroke="#e4e4e4" stroke-width="0.35" stroke-dasharray="0.6,0.8"/>
<text x="332.30" y="164.60" font-size="2.2" fill="#555" text-anchor="middle" >10</text>
<text x="338.75" y="164.60" font-size="2.2" fill="#555" text-anchor="middle" >10</text>
<text x="345.20" y="164.60" font-size="2.2" fill="#555" text-anchor="middle" >10</text>
<text x="351.65" y="164.60" font-size="2.2" fill="#555" text-anchor="middle" >10</text>
<text x="358.10" y="164.60" font-size="2.2" fill="#555" text-anchor="middle" >10</text>
<rect x="367.50" y="134.40" width="28.20" height="27.80" fill="#fff" stroke="#cfcfcf" stroke-width="0.5"/>
<line x1="382.00" y1="134.40" x2="382.00" y2="162.20" stroke="#bbb" stroke-width="0.5" />
<path d="M375.00,161.70 L377.60,161.60 L379.14,159.58 L380.33,153.25 L381.34,142.62 L382.00,136.30 L382.35,142.62 L382.87,153.25 L383.50,159.58 L384.30,161.60" fill="none" stroke="#444" stroke-width="0.8" stroke-linejoin="round"/>
<path d="M378.20,161.60 L379.46,159.79 L380.43,154.14 L381.26,144.65 L381.80,139.00 L382.22,144.65 L382.86,154.14 L383.62,159.79 L384.60,161.60" fill="none" stroke="#888" stroke-width="0.55" stroke-linejoin="round"/>
<text x="385.60" y="140.10" font-size="5.2" fill="#1a1a1a" stroke="#1a1a1a" stroke-width="0.1" text-anchor="start" >45.1</text>
<text x="366.50" y="137.10" font-size="2.2" fill="#555" text-anchor="end" >10</text>
<line x1="367.80" y1="136.40" x2="395.40" y2="136.40" stroke="#e4e4e4" stroke-width="0.35" stroke-dasharray="0.6,0.8"/>
<text x="366.50" y="141.23" font-size="2.2" fill="#555" text-anchor="end" >10</text>
<line x1="367.80" y1="140.53" x2="395.40" y2="140.53" stroke="#e4e4e4" stroke-width="0.35" stroke-dasharray="0.6,0.8"/>
<text x="366.50" y="145.37" font-size="2.2" fill="#555" text-anchor="end" >10</text>
<line x1="367.80" y1="144.67" x2="395.40" y2="144.67" stroke="#e4e4e4" stroke-width="0.35" stroke-dasharray="0.6,0.8"/>
<text x="366.50" y="149.50" font-size="2.2" fill="#555" text-anchor="end" >10</text>
<line x1="367.80" y1="148.80" x2="395.40" y2="148.80" stroke="#e4e4e4" stroke-width="0.35" stroke-dasharray="0.6,0.8"/>
<text x="366.50" y="153.63" font-size="2.2" fill="#555" text-anchor="end" >10</text>
<line x1="367.80" y1="152.93" x2="395.40" y2="152.93" stroke="#e4e4e4" stroke-width="0.35" stroke-dasharray="0.6,0.8"/>
<text x="366.50" y="157.77" font-size="2.2" fill="#555" text-anchor="end" >10</text>
<line x1="367.80" y1="157.07" x2="395.40" y2="157.07" stroke="#e4e4e4" stroke-width="0.35" stroke-dasharray="0.6,0.8"/>
<text x="366.50" y="161.90" font-size="2.2" fill="#555" text-anchor="end" >10</text>
<line x1="367.80" y1="161.20" x2="395.40" y2="161.20" stroke="#e4e4e4" stroke-width="0.35" stroke-dasharray="0.6,0.8"/>
<text x="369.00" y="164.60" font-size="2.2" fill="#555" text-anchor="middle" >10</text>
<text x="375.30" y="164.60" font-size="2.2" fill="#555" text-anchor="middle" >10</text>
<text x="381.60" y="164.60" font-size="2.2" fill="#555" text-anchor="middle" >10</text>
<text x="387.90" y="164.60" font-size="2.2" fill="#555" text-anchor="middle" >10</text>
<text x="394.20" y="164.60" font-size="2.2" fill="#555" text-anchor="middle" >10</text>
<rect x="414.00" y="134.40" width="29.80" height="27.00" fill="#fff" stroke="#cfcfcf" stroke-width="0.5"/>
<line x1="426.50" y1="134.40" x2="426.50" y2="161.40" stroke="#bbb" stroke-width="0.5" />
<path d="M414.60,160.90 C414.78,160.42 415.27,159.15 415.70,158.00 C416.13,156.85 416.65,155.58 417.20,154.00 C417.75,152.42 418.40,150.42 419.00,148.50 C419.60,146.58 420.30,144.20 420.80,142.50 C421.30,140.80 421.68,139.37 422.00,138.30 C422.32,137.23 422.48,135.65 422.70,136.10 C422.92,136.55 423.08,138.35 423.30,141.00 C423.52,143.65 423.78,148.80 424.00,152.00 C424.22,155.20 424.33,158.72 424.60,160.20 C424.87,161.68 425.03,160.78 425.60,160.90 C426.17,161.02 427.60,160.90 428.00,160.90" fill="none" stroke="#333" stroke-width="0.8" stroke-linejoin="round"/>
<path d="M415.20,160.90 C415.38,160.44 415.87,159.22 416.30,158.12 C416.73,157.01 417.25,155.80 417.80,154.28 C418.35,152.76 419.00,150.84 419.60,149.00 C420.20,147.16 420.90,144.87 421.40,143.24 C421.90,141.60 422.28,140.23 422.60,139.20 C422.92,138.18 423.08,136.66 423.30,137.09 C423.52,137.52 423.68,139.25 423.90,141.80 C424.12,144.34 424.38,149.28 424.60,152.36 C424.82,155.43 424.93,158.80 425.20,160.23 C425.47,161.65 425.63,160.79 426.20,160.90 C426.77,161.01 428.20,160.90 428.60,160.90" fill="none" stroke="#555" stroke-width="0.7" stroke-linejoin="round"/>
<path d="M414.10,160.90 C414.28,160.46 414.77,159.29 415.20,158.23 C415.63,157.17 416.15,156.01 416.70,154.55 C417.25,153.10 417.90,151.26 418.50,149.49 C419.10,147.73 419.80,145.54 420.30,143.97 C420.80,142.41 421.18,141.09 421.50,140.11 C421.82,139.13 421.98,137.67 422.20,138.08 C422.42,138.50 422.58,140.15 422.80,142.59 C423.02,145.03 423.28,149.77 423.50,152.71 C423.72,155.66 423.83,158.89 424.10,160.26 C424.37,161.62 424.53,160.79 425.10,160.90 C425.67,161.01 427.10,160.90 427.50,160.90" fill="none" stroke="#666" stroke-width="0.7" stroke-linejoin="round"/>
<path d="M415.50,160.90 C415.68,160.47 416.17,159.36 416.60,158.35 C417.03,157.34 417.55,156.22 418.10,154.83 C418.65,153.43 419.30,151.67 419.90,149.99 C420.50,148.30 421.20,146.20 421.70,144.71 C422.20,143.21 422.58,141.95 422.90,141.01 C423.22,140.07 423.38,138.68 423.60,139.08 C423.82,139.47 423.98,141.06 424.20,143.39 C424.42,145.72 424.68,150.25 424.90,153.07 C425.12,155.88 425.23,158.98 425.50,160.28 C425.77,161.59 425.93,160.80 426.50,160.90 C427.07,161.00 428.50,160.90 428.90,160.90" fill="none" stroke="#888" stroke-width="0.6" stroke-linejoin="round"/>
<text x="432.00" y="140.00" font-size="5.2" fill="#1a1a1a" stroke="#1a1a1a" stroke-width="0.1" text-anchor="start" >0.25</text>
<text x="413.00" y="137.10" font-size="2.2" fill="#555" text-anchor="end" >10</text>
<line x1="414.30" y1="136.40" x2="443.50" y2="136.40" stroke="#e4e4e4" stroke-width="0.35" stroke-dasharray="0.6,0.8"/>
<text x="413.00" y="141.10" font-size="2.2" fill="#555" text-anchor="end" >10</text>
<line x1="414.30" y1="140.40" x2="443.50" y2="140.40" stroke="#e4e4e4" stroke-width="0.35" stroke-dasharray="0.6,0.8"/>
<text x="413.00" y="145.10" font-size="2.2" fill="#555" text-anchor="end" >10</text>
<line x1="414.30" y1="144.40" x2="443.50" y2="144.40" stroke="#e4e4e4" stroke-width="0.35" stroke-dasharray="0.6,0.8"/>
<text x="413.00" y="149.10" font-size="2.2" fill="#555" text-anchor="end" >10</text>
<line x1="414.30" y1="148.40" x2="443.50" y2="148.40" stroke="#e4e4e4" stroke-width="0.35" stroke-dasharray="0.6,0.8"/>
<text x="413.00" y="153.10" font-size="2.2" fill="#555" text-anchor="end" >10</text>
<line x1="414.30" y1="152.40" x2="443.50" y2="152.40" stroke="#e4e4e4" stroke-width="0.35" stroke-dasharray="0.6,0.8"/>
<text x="413.00" y="157.10" font-size="2.2" fill="#555" text-anchor="end" >10</text>
<line x1="414.30" y1="156.40" x2="443.50" y2="156.40" stroke="#e4e4e4" stroke-width="0.35" stroke-dasharray="0.6,0.8"/>
<text x="413.00" y="161.10" font-size="2.2" fill="#555" text-anchor="end" >10</text>
<line x1="414.30" y1="160.40" x2="443.50" y2="160.40" stroke="#e4e4e4" stroke-width="0.35" stroke-dasharray="0.6,0.8"/>
<text x="415.50" y="163.80" font-size="2.2" fill="#555" text-anchor="middle" >10</text>
<text x="422.20" y="163.80" font-size="2.2" fill="#555" text-anchor="middle" >10</text>
<text x="428.90" y="163.80" font-size="2.2" fill="#555" text-anchor="middle" >10</text>
<text x="435.60" y="163.80" font-size="2.2" fill="#555" text-anchor="middle" >10</text>
<text x="442.30" y="163.80" font-size="2.2" fill="#555" text-anchor="middle" >10</text>
<rect x="455.10" y="134.40" width="28.30" height="26.90" fill="#fff" stroke="#cfcfcf" stroke-width="0.5"/>
<line x1="468.20" y1="134.40" x2="468.20" y2="161.30" stroke="#bbb" stroke-width="0.5" />
<path d="M455.30,160.80 C455.75,160.72 457.13,160.63 458.00,160.30 C458.87,159.97 459.75,159.52 460.50,158.80 C461.25,158.08 461.88,157.30 462.50,156.00 C463.12,154.70 463.70,152.92 464.20,151.00 C464.70,149.08 465.15,146.50 465.50,144.50 C465.85,142.50 466.08,140.45 466.30,139.00 C466.52,137.55 466.62,135.63 466.80,135.80 C466.98,135.97 467.20,137.30 467.40,140.00 C467.60,142.70 467.80,148.62 468.00,152.00 C468.20,155.38 468.27,158.83 468.60,160.30 C468.93,161.77 469.77,160.72 470.00,160.80" fill="none" stroke="#333" stroke-width="0.8" stroke-linejoin="round"/>
<path d="M455.80,160.80 C456.25,160.72 457.63,160.64 458.50,160.32 C459.37,160.00 460.25,159.57 461.00,158.88 C461.75,158.19 462.38,157.44 463.00,156.19 C463.62,154.94 464.20,153.23 464.70,151.39 C465.20,149.55 465.65,147.07 466.00,145.15 C466.35,143.23 466.58,141.26 466.80,139.87 C467.02,138.48 467.12,136.64 467.30,136.80 C467.48,136.96 467.70,138.24 467.90,140.83 C468.10,143.42 468.30,149.10 468.50,152.35 C468.70,155.60 468.77,158.91 469.10,160.32 C469.43,161.73 470.27,160.72 470.50,160.80" fill="none" stroke="#666" stroke-width="0.7" stroke-linejoin="round"/>
<path d="M454.80,160.80 C455.25,160.72 456.63,160.65 457.50,160.34 C458.37,160.03 459.25,159.61 460.00,158.94 C460.75,158.27 461.38,157.55 462.00,156.34 C462.62,155.13 463.20,153.47 463.70,151.69 C464.20,149.90 464.65,147.50 465.00,145.64 C465.35,143.78 465.58,141.87 465.80,140.53 C466.02,139.18 466.12,137.40 466.30,137.55 C466.48,137.71 466.70,138.94 466.90,141.46 C467.10,143.97 467.30,149.47 467.50,152.62 C467.70,155.76 467.77,158.97 468.10,160.34 C468.43,161.70 469.27,160.72 469.50,160.80" fill="none" stroke="#777" stroke-width="0.6" stroke-linejoin="round"/>
<text x="470.20" y="139.80" font-size="5.2" fill="#1a1a1a" stroke="#1a1a1a" stroke-width="0.1" text-anchor="start" >29.20</text>
<text x="454.10" y="137.10" font-size="2.2" fill="#555" text-anchor="end" >10</text>
<line x1="455.40" y1="136.40" x2="483.10" y2="136.40" stroke="#e4e4e4" stroke-width="0.35" stroke-dasharray="0.6,0.8"/>
<text x="454.10" y="141.08" font-size="2.2" fill="#555" text-anchor="end" >10</text>
<line x1="455.40" y1="140.38" x2="483.10" y2="140.38" stroke="#e4e4e4" stroke-width="0.35" stroke-dasharray="0.6,0.8"/>
<text x="454.10" y="145.07" font-size="2.2" fill="#555" text-anchor="end" >10</text>
<line x1="455.40" y1="144.37" x2="483.10" y2="144.37" stroke="#e4e4e4" stroke-width="0.35" stroke-dasharray="0.6,0.8"/>
<text x="454.10" y="149.05" font-size="2.2" fill="#555" text-anchor="end" >10</text>
<line x1="455.40" y1="148.35" x2="483.10" y2="148.35" stroke="#e4e4e4" stroke-width="0.35" stroke-dasharray="0.6,0.8"/>
<text x="454.10" y="153.03" font-size="2.2" fill="#555" text-anchor="end" >10</text>
<line x1="455.40" y1="152.33" x2="483.10" y2="152.33" stroke="#e4e4e4" stroke-width="0.35" stroke-dasharray="0.6,0.8"/>
<text x="454.10" y="157.02" font-size="2.2" fill="#555" text-anchor="end" >10</text>
<line x1="455.40" y1="156.32" x2="483.10" y2="156.32" stroke="#e4e4e4" stroke-width="0.35" stroke-dasharray="0.6,0.8"/>
<text x="454.10" y="161.00" font-size="2.2" fill="#555" text-anchor="end" >10</text>
<line x1="455.40" y1="160.30" x2="483.10" y2="160.30" stroke="#e4e4e4" stroke-width="0.35" stroke-dasharray="0.6,0.8"/>
<text x="456.60" y="163.70" font-size="2.2" fill="#555" text-anchor="middle" >10</text>
<text x="462.93" y="163.70" font-size="2.2" fill="#555" text-anchor="middle" >10</text>
<text x="469.25" y="163.70" font-size="2.2" fill="#555" text-anchor="middle" >10</text>
<text x="475.57" y="163.70" font-size="2.2" fill="#555" text-anchor="middle" >10</text>
<text x="481.90" y="163.70" font-size="2.2" fill="#555" text-anchor="middle" >10</text>
<rect x="489.70" y="134.40" width="28.30" height="26.90" fill="#fff" stroke="#cfcfcf" stroke-width="0.5"/>
<line x1="500.00" y1="134.40" x2="500.00" y2="161.30" stroke="#bbb" stroke-width="0.5" />
<path d="M490.00,160.80 C490.37,160.72 491.48,160.72 492.20,160.30 C492.92,159.88 493.67,159.18 494.30,158.30 C494.93,157.42 495.50,156.30 496.00,155.00 C496.50,153.70 496.92,152.33 497.30,150.50 C497.68,148.67 498.05,145.83 498.30,144.00 C498.55,142.17 498.67,140.77 498.80,139.50 C498.93,138.23 498.95,136.32 499.10,136.40 C499.25,136.48 499.47,137.40 499.70,140.00 C499.93,142.60 500.18,148.62 500.50,152.00 C500.82,155.38 501.18,158.83 501.60,160.30 C502.02,161.77 502.77,160.72 503.00,160.80" fill="none" stroke="#333" stroke-width="0.8" stroke-linejoin="round"/>
<path d="M490.50,160.80 C490.87,160.72 491.98,160.72 492.70,160.32 C493.42,159.92 494.17,159.25 494.80,158.40 C495.43,157.55 496.00,156.48 496.50,155.23 C497.00,153.98 497.42,152.67 497.80,150.91 C498.18,149.15 498.55,146.43 498.80,144.67 C499.05,142.91 499.17,141.57 499.30,140.35 C499.43,139.14 499.45,137.30 499.60,137.38 C499.75,137.46 499.97,138.34 500.20,140.83 C500.43,143.33 500.68,149.10 501.00,152.35 C501.32,155.60 501.68,158.91 502.10,160.32 C502.52,161.73 503.27,160.72 503.50,160.80" fill="none" stroke="#666" stroke-width="0.7" stroke-linejoin="round"/>
<path d="M489.50,160.80 C489.87,160.72 490.98,160.72 491.70,160.34 C492.42,159.95 493.17,159.30 493.80,158.48 C494.43,157.65 495.00,156.62 495.50,155.41 C496.00,154.20 496.42,152.93 496.80,151.22 C497.18,149.52 497.55,146.88 497.80,145.18 C498.05,143.47 498.17,142.17 498.30,140.99 C498.43,139.81 498.45,138.03 498.60,138.11 C498.75,138.19 498.97,139.04 499.20,141.46 C499.43,143.87 499.68,149.47 500.00,152.62 C500.32,155.76 500.68,158.97 501.10,160.34 C501.52,161.70 502.27,160.72 502.50,160.80" fill="none" stroke="#777" stroke-width="0.6" stroke-linejoin="round"/>
<text x="509.90" y="139.80" font-size="5.2" fill="#1a1a1a" stroke="#1a1a1a" stroke-width="0.1" text-anchor="start" >0.2</text>
<text x="488.70" y="137.10" font-size="2.2" fill="#555" text-anchor="end" >10</text>
<line x1="490.00" y1="136.40" x2="517.70" y2="136.40" stroke="#e4e4e4" stroke-width="0.35" stroke-dasharray="0.6,0.8"/>
<text x="488.70" y="141.08" font-size="2.2" fill="#555" text-anchor="end" >10</text>
<line x1="490.00" y1="140.38" x2="517.70" y2="140.38" stroke="#e4e4e4" stroke-width="0.35" stroke-dasharray="0.6,0.8"/>
<text x="488.70" y="145.07" font-size="2.2" fill="#555" text-anchor="end" >10</text>
<line x1="490.00" y1="144.37" x2="517.70" y2="144.37" stroke="#e4e4e4" stroke-width="0.35" stroke-dasharray="0.6,0.8"/>
<text x="488.70" y="149.05" font-size="2.2" fill="#555" text-anchor="end" >10</text>
<line x1="490.00" y1="148.35" x2="517.70" y2="148.35" stroke="#e4e4e4" stroke-width="0.35" stroke-dasharray="0.6,0.8"/>
<text x="488.70" y="153.03" font-size="2.2" fill="#555" text-anchor="end" >10</text>
<line x1="490.00" y1="152.33" x2="517.70" y2="152.33" stroke="#e4e4e4" stroke-width="0.35" stroke-dasharray="0.6,0.8"/>
<text x="488.70" y="157.02" font-size="2.2" fill="#555" text-anchor="end" >10</text>
<line x1="490.00" y1="156.32" x2="517.70" y2="156.32" stroke="#e4e4e4" stroke-width="0.35" stroke-dasharray="0.6,0.8"/>
<text x="488.70" y="161.00" font-size="2.2" fill="#555" text-anchor="end" >10</text>
<line x1="490.00" y1="160.30" x2="517.70" y2="160.30" stroke="#e4e4e4" stroke-width="0.35" stroke-dasharray="0.6,0.8"/>
<text x="491.20" y="163.70" font-size="2.2" fill="#555" text-anchor="middle" >10</text>
<text x="497.52" y="163.70" font-size="2.2" fill="#555" text-anchor="middle" >10</text>
<text x="503.85" y="163.70" font-size="2.2" fill="#555" text-anchor="middle" >10</text>
<text x="510.18" y="163.70" font-size="2.2" fill="#555" text-anchor="middle" >10</text>
<text x="516.50" y="163.70" font-size="2.2" fill="#555" text-anchor="middle" >10</text>
<line x1="288.90" y1="132.80" x2="288.90" y2="167.40" stroke="#999" stroke-width="0.6" />
<line x1="288.90" y1="167.40" x2="323.70" y2="167.40" stroke="#999" stroke-width="0.6" />
<path d="M287.70,134.00 L288.90,131.80 L290.10,134.00" fill="none" stroke="#999" stroke-width="0.5"/>
<path d="M322.50,166.20 L324.70,167.40 L322.50,168.60" fill="none" stroke="#999" stroke-width="0.5"/>
<line x1="410.20" y1="132.30" x2="410.20" y2="166.40" stroke="#999" stroke-width="0.6" />
<line x1="410.20" y1="166.40" x2="444.20" y2="166.40" stroke="#999" stroke-width="0.6" />
<path d="M409.00,133.50 L410.20,131.30 L411.40,133.50" fill="none" stroke="#999" stroke-width="0.5"/>
<path d="M443.00,165.20 L445.20,166.40 L443.00,167.60" fill="none" stroke="#999" stroke-width="0.5"/>
<text x="0" y="0" font-size="5.4" font-weight="bold" stroke="#000" stroke-width="0.12" text-anchor="middle" transform="translate(286.0,148.1) rotate(-90)">count</text>
<text x="0" y="0" font-size="5.4" font-weight="bold" stroke="#000" stroke-width="0.12" text-anchor="middle" transform="translate(406.8,146.2) rotate(-90)">count</text>
<text x="306.50" y="172.30" font-size="5.2" font-weight="bold" fill="#000" stroke="#000" stroke-width="0.12" text-anchor="middle" >IgM</text>
<text x="426.50" y="170.80" font-size="5.2" font-weight="bold" fill="#000" stroke="#000" stroke-width="0.12" text-anchor="middle" >IgM</text>
<line x1="376.00" y1="207.00" x2="376.00" y2="266.45" stroke="#111" stroke-width="0.95" />
<line x1="375.50" y1="266.00" x2="464.60" y2="266.00" stroke="#111" stroke-width="0.95" />
<line x1="374.00" y1="207.00" x2="376.00" y2="207.00" stroke="#111" stroke-width="0.75" />
<text x="372.40" y="208.40" font-size="6.0" font-weight="bold" fill="#000" stroke="#000" stroke-width="0.12" text-anchor="end" >6</text>
<line x1="374.00" y1="236.50" x2="376.00" y2="236.50" stroke="#111" stroke-width="0.75" />
<text x="372.40" y="237.90" font-size="6.0" font-weight="bold" fill="#000" stroke="#000" stroke-width="0.12" text-anchor="end" >5</text>
<line x1="374.00" y1="266.00" x2="376.00" y2="266.00" stroke="#111" stroke-width="0.75" />
<text x="372.40" y="267.40" font-size="6.0" font-weight="bold" fill="#000" stroke="#000" stroke-width="0.12" text-anchor="end" >4</text>
<line x1="397.90" y1="266.00" x2="397.90" y2="267.50" stroke="#000" stroke-width="0.6" />
<line x1="442.10" y1="266.00" x2="442.10" y2="267.50" stroke="#000" stroke-width="0.6" />
<text x="0" y="0" font-size="5.55" font-weight="normal" stroke="#000" stroke-width="0.12" text-anchor="middle" transform="translate(366.60,236.20) rotate(-90)">Log10 (MFI CD24)</text>
<text x="402.00" y="209.20" font-size="5.9" fill="#000" text-anchor="start" >***P=0.00016</text>
<path d="M398.3,215.70000000000002 L398.3,212.9 L440.8,212.9 L440.8,215.70000000000002" fill="none" stroke="#000" stroke-width="0.6"/>
<line x1="383.30" y1="224.00" x2="412.70" y2="224.00" stroke="#2a2a2a" stroke-width="0.7" />
<line x1="427.40" y1="252.60" x2="456.80" y2="252.60" stroke="#2a2a2a" stroke-width="0.7" />
<rect x="396.90" y="221.30" width="2.20" height="2.20" fill="#000" />
<rect x="400.50" y="222.40" width="2.20" height="2.20" fill="#000" />
<rect x="396.90" y="225.70" width="2.20" height="2.20" fill="#000" />
<path d="M437.20,252.35 L439.80,252.35 L438.50,250.05 Z" fill="#000"/>
<path d="M440.80,252.35 L443.40,252.35 L442.10,250.05 Z" fill="#000"/>
<path d="M440.80,257.45 L443.40,257.45 L442.10,255.15 Z" fill="#000"/>
<text x="400.10" y="275.70" font-size="5.65" font-weight="bold" fill="#000" stroke="#000" stroke-width="0.12" text-anchor="middle" >MCL-SOX11+</text>
<text x="445.10" y="275.70" font-size="5.65" font-weight="bold" fill="#000" stroke="#000" stroke-width="0.12" text-anchor="middle" >MCL-SOX11-</text>
<line x1="376.00" y1="300.50" x2="376.00" y2="360.95" stroke="#111" stroke-width="0.95" />
<line x1="375.50" y1="360.50" x2="464.60" y2="360.50" stroke="#111" stroke-width="0.95" />
<line x1="374.00" y1="300.50" x2="376.00" y2="300.50" stroke="#111" stroke-width="0.75" />
<text x="372.40" y="301.90" font-size="6.0" font-weight="bold" fill="#000" stroke="#000" stroke-width="0.12" text-anchor="end" >5</text>
<line x1="374.00" y1="330.50" x2="376.00" y2="330.50" stroke="#111" stroke-width="0.75" />
<text x="372.40" y="331.90" font-size="6.0" font-weight="bold" fill="#000" stroke="#000" stroke-width="0.12" text-anchor="end" >4</text>
<line x1="374.00" y1="360.50" x2="376.00" y2="360.50" stroke="#111" stroke-width="0.75" />
<text x="372.40" y="361.90" font-size="6.0" font-weight="bold" fill="#000" stroke="#000" stroke-width="0.12" text-anchor="end" >3</text>
<line x1="397.90" y1="360.50" x2="397.90" y2="362.00" stroke="#000" stroke-width="0.6" />
<line x1="442.10" y1="360.50" x2="442.10" y2="362.00" stroke="#000" stroke-width="0.6" />
<text x="0" y="0" font-size="5.8" font-weight="bold" stroke="#000" stroke-width="0.12" text-anchor="middle" transform="translate(366.60,330.20) rotate(-90)">Log10 (MFI IgM)</text>
<text x="406.80" y="300.50" font-size="5.9" fill="#000" text-anchor="start" >*P=0.0447</text>
<path d="M398.5,307.40000000000003 L398.5,304.6 L441.5,304.6 L441.5,307.40000000000003" fill="none" stroke="#000" stroke-width="0.6"/>
<line x1="384.10" y1="321.30" x2="413.50" y2="321.30" stroke="#2a2a2a" stroke-width="0.7" />
<line x1="428.20" y1="344.20" x2="458.10" y2="344.20" stroke="#2a2a2a" stroke-width="0.7" />
<path d="M396.95,312.40 L399.65,312.40 L398.30,314.80 Z" fill="#000"/>
<path d="M396.95,320.20 L399.65,320.20 L398.30,322.60 Z" fill="#000"/>
<path d="M396.95,328.40 L399.65,328.40 L398.30,330.80 Z" fill="#000"/>
<circle cx="443.30" cy="332.30" r="1.05" fill="#000"/>
<circle cx="443.30" cy="347.20" r="1.05" fill="#000"/>
<circle cx="443.30" cy="354.50" r="1.05" fill="#000"/>
<text x="400.10" y="368.20" font-size="5.65" font-weight="bold" fill="#000" stroke="#000" stroke-width="0.12" text-anchor="middle" >MCL-SOX11+</text>
<text x="445.10" y="368.20" font-size="5.65" font-weight="bold" fill="#000" stroke="#000" stroke-width="0.12" text-anchor="middle" >MCL-SOX11-</text>
</svg></body></html>
